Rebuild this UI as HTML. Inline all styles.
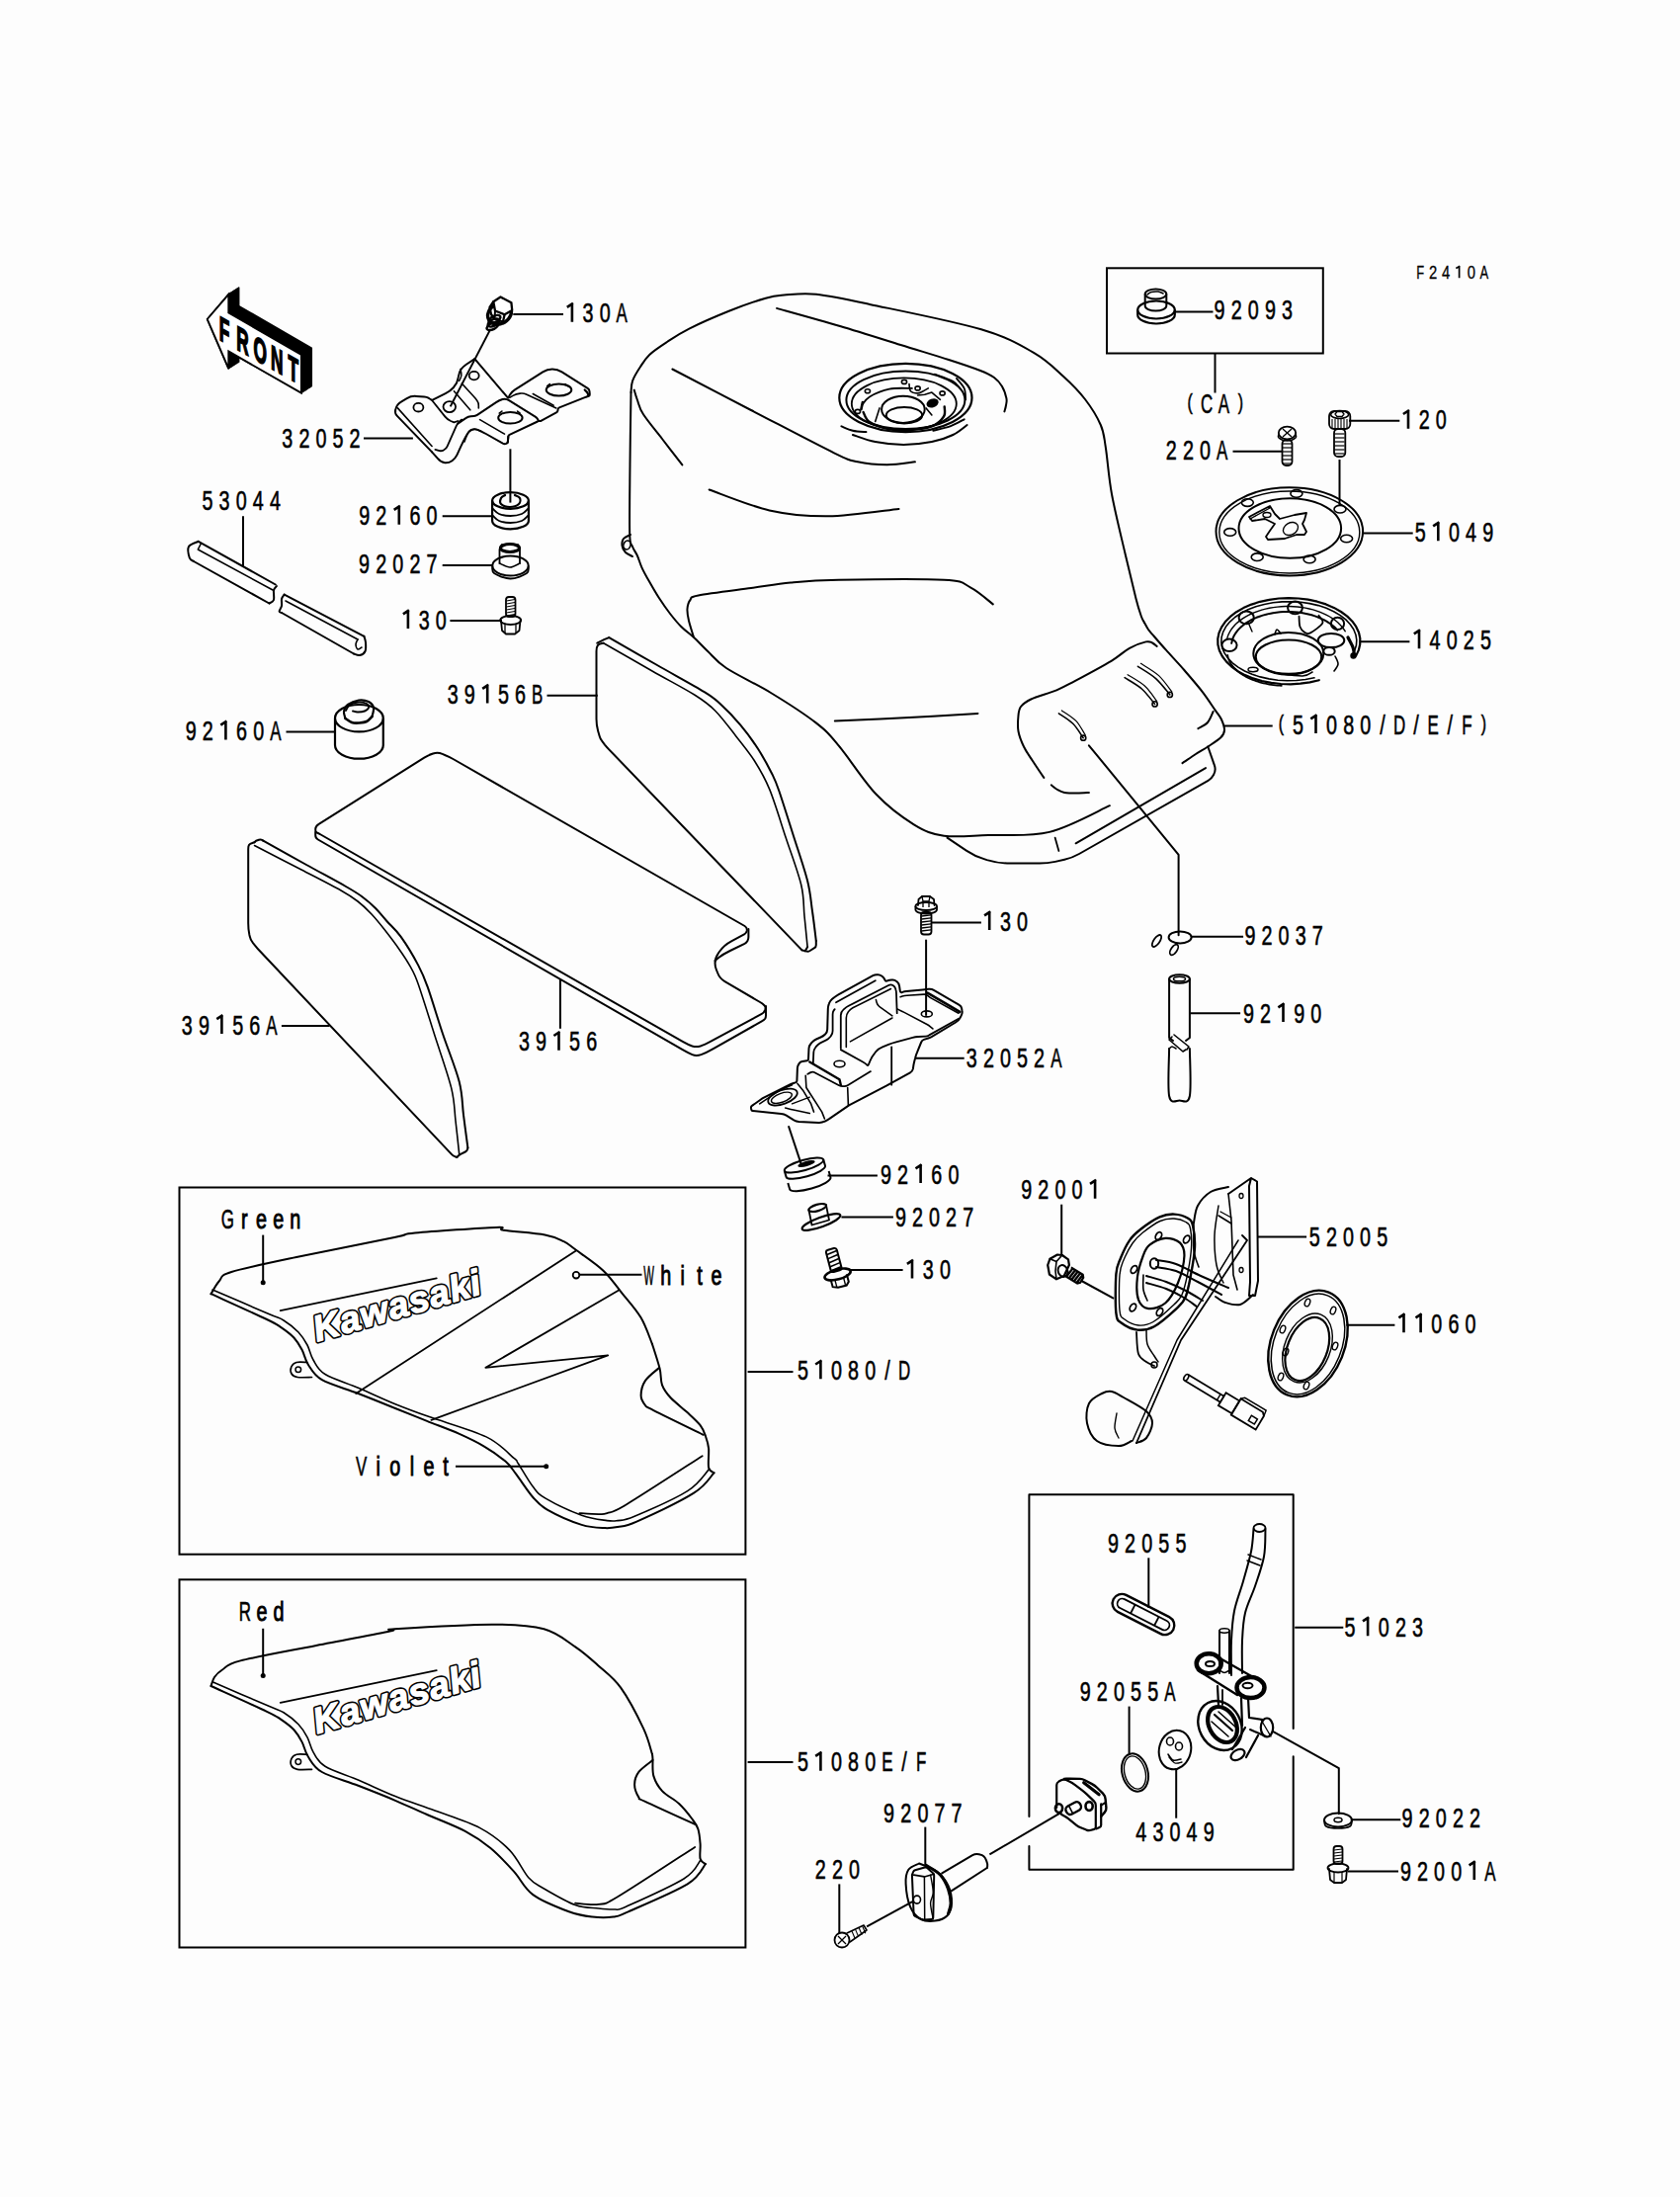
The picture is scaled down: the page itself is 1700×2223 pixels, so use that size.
<!DOCTYPE html>
<html><head><meta charset="utf-8"><title>Fuel Tank</title>
<style>html,body{margin:0;padding:0;background:#fdfdfd;}svg{display:block;}</style></head>
<body><svg width="1700" height="2223" viewBox="0 0 1700 2223">
<rect width="1700" height="2223" fill="#fdfdfd"/>
<path d="M209.7,323 L231.3,297.8 L231.3,316.4 L304.9,359 L304.9,397.6 L231.3,355.5 L231.3,373Z" fill="#000" stroke="#000" stroke-width="1.5" stroke-linejoin="round"/>
<path d="M210.7,322.3 L232.3,297.1 L232.3,315.7 L305.9,358.3 L305.9,396.9 L232.3,354.8 L232.3,372.3Z" fill="#000" stroke="#000" stroke-width="1.5" stroke-linejoin="round"/>
<path d="M211.8,321.6 L233.4,296.4 L233.4,315 L307,357.6 L307,396.2 L233.4,354.1 L233.4,371.6Z" fill="#000" stroke="#000" stroke-width="1.5" stroke-linejoin="round"/>
<path d="M212.8,321 L234.4,295.8 L234.4,314.4 L308,357 L308,395.6 L234.4,353.5 L234.4,371Z" fill="#000" stroke="#000" stroke-width="1.5" stroke-linejoin="round"/>
<path d="M213.9,320.3 L235.5,295.1 L235.5,313.7 L309.1,356.3 L309.1,394.9 L235.5,352.8 L235.5,370.3Z" fill="#000" stroke="#000" stroke-width="1.5" stroke-linejoin="round"/>
<path d="M214.9,319.6 L236.5,294.4 L236.5,313 L310.1,355.6 L310.1,394.2 L236.5,352.1 L236.5,369.6Z" fill="#000" stroke="#000" stroke-width="1.5" stroke-linejoin="round"/>
<path d="M215.9,318.9 L237.5,293.7 L237.5,312.3 L311.1,354.9 L311.1,393.5 L237.5,351.4 L237.5,368.9Z" fill="#000" stroke="#000" stroke-width="1.5" stroke-linejoin="round"/>
<path d="M217,318.2 L238.6,293 L238.6,311.6 L312.2,354.2 L312.2,392.8 L238.6,350.7 L238.6,368.2Z" fill="#000" stroke="#000" stroke-width="1.5" stroke-linejoin="round"/>
<path d="M218,317.6 L239.6,292.4 L239.6,311 L313.2,353.6 L313.2,392.2 L239.6,350.1 L239.6,367.6Z" fill="#000" stroke="#000" stroke-width="1.5" stroke-linejoin="round"/>
<path d="M219.1,316.9 L240.7,291.7 L240.7,310.3 L314.3,352.9 L314.3,391.5 L240.7,349.4 L240.7,366.9Z" fill="#000" stroke="#000" stroke-width="1.5" stroke-linejoin="round"/>
<path d="M220.1,316.2 L241.7,291 L241.7,309.6 L315.3,352.2 L315.3,390.8 L241.7,348.7 L241.7,366.2Z" fill="#000" stroke="#000" stroke-width="1.5" stroke-linejoin="round"/>
<path d="M209.7,323 L231.3,297.8 L231.3,316.4 L304.9,359 L304.9,397.6 L231.3,355.5 L231.3,373Z" fill="#fff" stroke="#000" stroke-width="1.9" stroke-linejoin="miter"/>
<text transform="translate(221.8 343.5) skewY(29.2) scale(0.5 1)" x="0 34.8 69.6 104.4 139.2" y="0" font-family="Liberation Sans" font-weight="bold" font-size="34.5" stroke="#000" stroke-width="1.8">FRONT</text>
<path d="M638.5,397 C638.8,395.1 638.5,389.6 640.1,385.3 C641.7,381 645,375.7 647.9,371.3 C650.8,366.9 652.7,363.1 657.2,358.9 C661.7,354.7 668.3,350.4 675,346 C681.7,341.6 687,337.8 697.4,332.6 C707.8,327.4 724.7,320 737.6,314.8 C750.5,309.6 765.5,304.4 774.8,301.7 C784.1,299 784.9,299.2 793.4,298.6 C801.9,298 811.5,296.2 825.9,297.8 C840.3,299.4 852.2,302 880,307.9 C907.8,313.8 965.2,325.1 992.9,333.3 C1020.6,341.5 1032.5,349.2 1046.4,357.1 C1060.3,365.1 1067.6,373.2 1076.2,381 C1084.8,388.8 1091.7,395.8 1098,404 C1104.3,412.2 1110.3,421.9 1113.8,430 C1117.3,438.1 1116.9,440.8 1118.8,452.5 C1120.7,464.2 1121.7,482.1 1125,500 C1128.3,517.9 1134.4,542.4 1138.5,560 C1142.6,577.6 1146.8,595 1149.5,605.7 C1152.2,616.4 1153.6,620 1155,624 C1156.4,628 1157.5,629 1158,630" fill="none" stroke="#000" stroke-width="2" stroke-linejoin="round" stroke-linecap="round"/>
<path d="M638.5,397 C638.3,409.2 637.7,446.2 637.5,470 C637.3,493.8 636.8,526.2 637.2,540 C637.6,553.8 638.7,549.3 640,553 C641.3,556.7 643.2,558.5 644.8,562 C646.4,565.5 647.5,569.9 649.5,574.3 C651.5,578.7 654.2,583.5 657.1,588.6 C660,593.7 663.2,599.4 666.7,604.8 C670.2,610.2 674.3,616.1 678.1,621 C681.9,625.9 685.5,630.3 689.5,634.3 C693.5,638.3 697.4,640.7 701.9,644.8 C706.4,648.9 710.7,653.8 716.2,659 C721.7,664.2 724.4,669 735,676 C745.6,683 764.9,691.8 780,701 C795.1,710.2 814.3,722.5 825.7,731.4 C837.1,740.3 838.4,742.2 848.6,754.3 C858.8,766.4 874,790.5 886.7,803.8 C899.4,817.1 913.4,827.3 924.8,834.3 C936.2,841.3 942.7,843.9 955.2,845.7 C967.7,847.5 982.2,845.6 1000,845 C1017.8,844.4 1041.4,846.9 1061.9,841.9 C1082.4,836.9 1112.7,819.7 1122.9,815.2" fill="none" stroke="#000" stroke-width="2" stroke-linejoin="round" stroke-linecap="round"/>
<path d="M638,541 C636.8,541.7 632.4,543.2 631,545 C629.6,546.8 629.2,549.7 629.5,552 C629.8,554.3 631.2,557.2 633,559 C634.8,560.8 638.8,562.3 640,563" fill="none" stroke="#000" stroke-width="2" stroke-linejoin="round" stroke-linecap="round"/>
<ellipse cx="634.5" cy="551.5" rx="3.5" ry="4.5" fill="none" stroke="#000" stroke-width="1.6" transform="rotate(20 634.5 551.5)"/>
<path d="M641.7,394.6 C642.2,396.3 643.5,400.9 645,405 C646.5,409.1 646.8,412.8 651,419.3 C655.2,425.8 663.4,435.5 670,444 C676.6,452.5 687,466 690.4,470.4" fill="none" stroke="#000" stroke-width="2" stroke-linejoin="round" stroke-linecap="round"/>
<path d="M680.4,373.5 C693.7,380.4 732.7,400.9 760,415 C787.3,429.1 826,449.6 844,458.3 C862,467 859,465.3 867.9,467.3 C876.8,469.3 887.9,470.2 897.6,470.2 C907.3,470.2 921.2,467.8 925.9,467.3" fill="none" stroke="#000" stroke-width="2" stroke-linejoin="round" stroke-linecap="round"/>
<path d="M786,311.9 C796.7,314.9 829.1,323.8 850,330 C870.9,336.2 893.1,343.3 911.4,349 C929.7,354.7 946.6,359.7 960,364 C973.4,368.3 984.3,372 992,375 C999.7,378 1002.3,379.3 1006,382 C1009.7,384.7 1011.9,387.5 1014,391 C1016.1,394.5 1017.7,399.8 1018.4,403 C1019.1,406.2 1018.3,407.8 1018,410 C1017.7,412.2 1016.7,415.3 1016.4,416.4" fill="none" stroke="#000" stroke-width="2" stroke-linejoin="round" stroke-linecap="round"/>
<path d="M717.6,495.5 C727.8,499 758.5,511.9 778.6,516.4 C798.7,520.9 816.3,522.5 838.1,522.3 C859.9,522 897.6,516.1 909.5,514.9" fill="none" stroke="#000" stroke-width="2" stroke-linejoin="round" stroke-linecap="round"/>
<path d="M701.9,644.5 C701.1,641.8 698.1,632.8 697,628 C695.9,623.2 695.2,619.5 695.5,616 C695.8,612.5 696.6,609.3 698.5,607 C700.4,604.7 696.5,604.4 706.7,602.4 C717,600.4 744.5,597.1 760,595 C775.5,592.9 785.2,590.9 800,589.5 C814.8,588.1 822.7,587.2 848.6,586.7 C874.5,586.2 933,585.4 955.2,586.7 C977.4,588 973.6,590.2 981.9,594.3 C990.2,598.4 1001,608.5 1004.8,611.4" fill="none" stroke="#000" stroke-width="2" stroke-linejoin="round" stroke-linecap="round"/>
<path d="M844.8,729.5 C857.3,728.9 895.9,727.3 920,726 C944.1,724.7 977.9,722.6 989.5,721.9" fill="none" stroke="#000" stroke-width="2" stroke-linejoin="round" stroke-linecap="round"/>
<ellipse cx="916.4" cy="402.5" rx="67.1" ry="34.6" fill="none" stroke="#000" stroke-width="2.2"/>
<ellipse cx="916.4" cy="404.8" rx="60" ry="29.3" fill="none" stroke="#000" stroke-width="2"/>
<ellipse cx="914.8" cy="408.6" rx="53" ry="26.2" fill="none" stroke="#000" stroke-width="1.8"/>
<ellipse cx="913.9" cy="414.3" rx="21.8" ry="13.6" fill="none" stroke="#000" stroke-width="2"/>
<ellipse cx="915" cy="420.2" rx="18.2" ry="8.2" fill="none" stroke="#000" stroke-width="2"/>
<path d="M872.1,410 C873.5,408.6 875.4,404.2 880,401.4 C884.6,398.7 892.9,395 900,393.6 C907.1,392.1 919,393 922.9,392.9" fill="none" stroke="#000" stroke-width="1.8" stroke-linejoin="round" stroke-linecap="round"/>
<path d="M873.6,417.1 C874.6,418.8 875.6,424.3 880,427.1 C884.4,430 893.1,433 900,434.3 C906.9,435.6 914.3,435.5 921.4,435 C928.6,434.5 937.3,433.7 942.9,431.4 C948.5,429.2 952.9,424.8 955,421.4 C957.1,418.1 955.6,413.1 955.7,411.4" fill="none" stroke="#000" stroke-width="2.4" stroke-linejoin="round" stroke-linecap="round"/>
<path d="M851.4,431.4 C853.3,432.1 858.7,434.8 862.9,435.7 C867,436.7 874.2,436.9 876.4,437.1" fill="none" stroke="#000" stroke-width="2" stroke-linejoin="round" stroke-linecap="round"/>
<path d="M944.3,435.7 C947.1,435 956.2,433.3 961.4,431.4 C966.7,429.5 973.3,425.5 975.7,424.3" fill="none" stroke="#000" stroke-width="2" stroke-linejoin="round" stroke-linecap="round"/>
<path d="M862.9,440 C866.7,441.2 877.1,445.5 885.7,447.1 C894.3,448.8 904.8,450 914.3,450 C923.8,450 934.5,448.8 942.9,447.1 C951.2,445.5 958.3,442.9 964.3,440 C970.2,437.1 976.2,431.7 978.6,430" fill="none" stroke="#000" stroke-width="2" stroke-linejoin="round" stroke-linecap="round"/>
<path d="M945.7,378.6 C948.8,379.8 960,383.3 964.3,385.7 C968.6,388.1 970.2,391.7 971.4,392.9" fill="none" stroke="#000" stroke-width="1.6" stroke-linejoin="round" stroke-linecap="round"/>
<path d="M967.9,382.9 C969.2,384.5 974.2,389.3 975.7,392.9 C977.3,396.4 976.9,402.4 977.1,404.3" fill="none" stroke="#000" stroke-width="1.8" stroke-linejoin="round" stroke-linecap="round"/>
<ellipse cx="877.9" cy="395.7" rx="2.6" ry="2" fill="none" stroke="#000" stroke-width="1.6"/>
<ellipse cx="915" cy="386.4" rx="2.6" ry="2" fill="none" stroke="#000" stroke-width="1.6"/>
<ellipse cx="928.6" cy="392.9" rx="2.6" ry="2" fill="none" stroke="#000" stroke-width="1.6"/>
<ellipse cx="953.6" cy="397.9" rx="2.6" ry="2" fill="none" stroke="#000" stroke-width="1.6"/>
<ellipse cx="867.9" cy="416.4" rx="2.6" ry="2" fill="none" stroke="#000" stroke-width="1.6"/>
<ellipse cx="943.6" cy="407.9" rx="5.5" ry="3.5" fill="#000" stroke="#000" stroke-width="1.6" transform="rotate(-20 943.6 407.9)"/>
<path d="M920,388.6 C920.2,389.8 920,394.2 921.4,395.7 C922.9,397.3 926.4,397.9 928.6,397.9 C930.7,397.9 932.5,396.5 934.3,395.7 C936.1,394.9 938.5,393.3 939.3,392.9" fill="none" stroke="#000" stroke-width="1.6" stroke-linejoin="round" stroke-linecap="round"/>
<path d="M928.6,400 L935.7,399.3 L942.9,397.1 L951.4,404.3" fill="none" stroke="#000" stroke-width="1.6" stroke-linejoin="round" stroke-linecap="round"/>
<path d="M937.1,412.9 L942.9,420" fill="none" stroke="#000" stroke-width="1.6" stroke-linejoin="round" stroke-linecap="round"/>
<path d="M890,412.9 L885.7,426.4" fill="none" stroke="#000" stroke-width="1.6" stroke-linejoin="round" stroke-linecap="round"/>
<path d="M872.9,407.1 L871.4,414.3" fill="none" stroke="#000" stroke-width="2.6" stroke-linejoin="round" stroke-linecap="round"/>
<path d="M1056.3,786.9 C1054.4,784.1 1048.4,775.2 1045,770 C1041.6,764.8 1038.4,760.5 1036,755.5 C1033.6,750.5 1031.4,745.1 1030.5,740 C1029.6,734.9 1030,729.2 1030.4,725 C1030.8,720.8 1030.8,717.9 1033,715 C1035.2,712.1 1037.3,710.3 1043.3,707.5 C1049.3,704.7 1061.8,701.4 1069.2,698.3 C1076.6,695.2 1078.4,694 1087.6,689.1 C1096.8,684.2 1115.3,674.3 1124.5,668.8 C1133.7,663.2 1137.2,659 1143,655.8 C1148.8,652.6 1155.8,650.3 1159.6,649.4 C1163.4,648.5 1164.2,649.7 1166,650.5 C1167.8,651.3 1169.9,653.4 1170.7,654" fill="none" stroke="#000" stroke-width="2" stroke-linejoin="round" stroke-linecap="round"/>
<path d="M1158,630 C1158.7,631.2 1160.5,634.9 1162,637 C1163.5,639.1 1164,639.4 1167,642.9 C1170,646.4 1174.7,651.9 1179.9,657.7 C1185.1,663.6 1192.2,670.9 1198.3,678 C1204.4,685.1 1211.6,693.3 1216.8,700.1 C1222,706.9 1226.5,714 1229.7,718.6 C1232.9,723.2 1234.5,724.6 1236,728 C1237.5,731.4 1239.1,735.9 1239,738.9 C1238.9,741.9 1238.1,743.5 1235.3,746.3 C1232.5,749.1 1226.5,752.7 1222.3,755.5 C1218.1,758.3 1214.3,760.2 1210,763 C1205.7,765.8 1198.8,770.6 1196.5,772.1" fill="none" stroke="#000" stroke-width="2" stroke-linejoin="round" stroke-linecap="round"/>
<path d="M1063.8,794.3 C1064.8,795.1 1067.8,797.7 1070,799 C1072.2,800.3 1073.8,801.3 1077.1,801.9 C1080.4,802.5 1085.9,802.5 1090,802.5 C1094.1,802.5 1099.9,802.1 1101.9,802" fill="none" stroke="#000" stroke-width="2" stroke-linejoin="round" stroke-linecap="round"/>
<path d="M1212.4,737.1 C1214,736.1 1219.5,733.9 1222,731 C1224.5,728.1 1226.7,721.8 1227.6,720" fill="none" stroke="#000" stroke-width="2" stroke-linejoin="round" stroke-linecap="round"/>
<path d="M1222.3,755.5 L1228.9,774.3 Q1230.6,779 1228.3,783.4 L1227.9,784.3 Q1226,787.8 1222.5,789.8 L1092,864 Q1085,868 1077.2,869.7 L1067.8,871.9 Q1060,873.6 1052,873.6 L1022.1,873.6 Q1010.1,873.6 998.6,870.1 L995.7,869.1 Q986.1,866.2 977.8,860.6 L958.5,847.7" fill="none" stroke="#000" stroke-width="2" stroke-linejoin="round" stroke-linecap="round"/>
<path d="M1088.6,853.3 L1220,777.1" fill="none" stroke="#000" stroke-width="2" stroke-linejoin="round" stroke-linecap="round"/>
<path d="M1067.6,847.6 L1071.4,861" fill="none" stroke="#000" stroke-width="1.8" stroke-linejoin="round" stroke-linecap="round"/>
<path d="M1138.1,685.7 C1141,687.6 1150.3,692.6 1155.3,697 C1160.4,701.5 1166.4,709.8 1168.6,712.4" fill="none" stroke="#000" stroke-width="1.6" stroke-linejoin="round" stroke-linecap="round"/>
<path d="M1141.1,682.7 C1144,684.6 1153.4,689.6 1158.3,694 C1163.3,698.5 1168.6,706.8 1170.6,709.4" fill="none" stroke="#000" stroke-width="1.2" stroke-linejoin="round" stroke-linecap="round"/>
<ellipse cx="1168.6" cy="712.4" rx="2.6" ry="2.6" fill="none" stroke="#000" stroke-width="1.6"/>
<path d="M1151.4,674.3 C1154.4,676.3 1164.2,681.8 1169.6,686.6 C1175,691.4 1181.4,700.2 1183.8,702.9" fill="none" stroke="#000" stroke-width="1.6" stroke-linejoin="round" stroke-linecap="round"/>
<path d="M1154.4,671.3 C1157.4,673.3 1167.4,678.8 1172.6,683.6 C1177.8,688.4 1183.6,697.2 1185.8,699.9" fill="none" stroke="#000" stroke-width="1.2" stroke-linejoin="round" stroke-linecap="round"/>
<ellipse cx="1183.8" cy="702.9" rx="2.6" ry="2.6" fill="none" stroke="#000" stroke-width="1.6"/>
<path d="M1071.4,721.9 C1073.8,723.6 1081.7,728.2 1085.8,732.3 C1089.9,736.4 1094.5,744.3 1096.2,746.7" fill="none" stroke="#000" stroke-width="1.6" stroke-linejoin="round" stroke-linecap="round"/>
<path d="M1074.4,718.9 C1076.8,720.6 1084.8,725.2 1088.8,729.3 C1092.8,733.4 1096.6,741.3 1098.2,743.7" fill="none" stroke="#000" stroke-width="1.2" stroke-linejoin="round" stroke-linecap="round"/>
<ellipse cx="1096.2" cy="746.7" rx="2.6" ry="2.6" fill="none" stroke="#000" stroke-width="1.6"/>
<ellipse cx="498.5" cy="330" rx="6.5" ry="3.2" fill="none" stroke="#000" stroke-width="2.4" transform="rotate(-28 498.5 330)"/>
<ellipse cx="499.5" cy="326.5" rx="6.5" ry="3.2" fill="none" stroke="#000" stroke-width="2.4" transform="rotate(-28 499.5 326.5)"/>
<ellipse cx="500.5" cy="323" rx="6.5" ry="3.2" fill="none" stroke="#000" stroke-width="2.4" transform="rotate(-28 500.5 323)"/>
<ellipse cx="505.5" cy="317.5" rx="12.5" ry="10" fill="none" stroke="#000" stroke-width="3.4" transform="rotate(-30 505.5 317.5)"/>
<path d="M499.3,305.2 L506.5,300.5 L517.4,306.2 L518.2,313.9 L510.6,318.3 L501,314.5Z" fill="#fff" stroke="#000" stroke-width="2.3" stroke-linejoin="round" stroke-linecap="round"/>
<path d="M499.3,305.2 L495.5,311 L497,318 L500.5,323 L509,325.5 L510.6,318.3" fill="none" stroke="#000" stroke-width="2.3" stroke-linejoin="round" stroke-linecap="round"/>
<path d="M501,314.5 L500.5,323" fill="none" stroke="#000" stroke-width="2" stroke-linejoin="round" stroke-linecap="round"/>
<path d="M437.1,457.4 L401.9,420.9 Q399.2,418.1 400.2,414.3 L400.5,413.5 Q401.8,408.9 406.3,406.3 L411.7,403.1 Q416.2,400.4 421.4,400.9 L429.3,401.5 Q431.9,401.7 433.5,402.7 L434.1,403 Q435.2,403.7 436.2,404.3 L436.2,404.3 Q437.1,405 438.3,404.4 L450.8,398.2 Q455.5,395.8 459,392 L459.1,391.8 Q462.7,388 463.5,382.8 L463.8,381.4 Q464.6,376.2 466.6,373.6 L466.6,373.6 Q468.6,371 471.8,368.8 L480.4,363.1" fill="none" stroke="#000" stroke-width="2" stroke-linejoin="round" stroke-linecap="round"/>
<path d="M480.4,363.1 L513.8,402.4" fill="none" stroke="#000" stroke-width="2" stroke-linejoin="round" stroke-linecap="round"/>
<path d="M437.1,457.4 L442.9,463.9 Q446.3,467.9 450.2,468.2 L450.2,468.2 Q454.2,468.5 457.4,466.2 L457.5,466.2 Q460.7,463.9 462.4,460.4 L466.4,451.7 Q468.6,446.9 471.1,442.3 L472.6,439.7 Q475.1,435.1 478.4,434.5 L478.4,434.5 Q481.7,433.8 485.6,435.8 L487.2,436.6 Q489.5,437.7 491.8,439 L508.8,448.6 Q510.5,449.5 512.1,448.9 L512.5,448.7 Q513.8,448.2 513.9,446.9 L514.4,441.7" fill="none" stroke="#000" stroke-width="2" stroke-linejoin="round" stroke-linecap="round"/>
<path d="M440.4,454.8 L443.8,455.9 Q446.3,456.7 448.7,455.6 L449.2,455.3 Q451.6,454.1 452.6,451.7 L461.8,430.9 Q463.3,427.3 465.3,426 L467.3,424.6" fill="none" stroke="#000" stroke-width="1.8" stroke-linejoin="round" stroke-linecap="round"/>
<path d="M469.9,446.9 L472.4,440.1 Q473.8,436.4 477.1,435.1 L477.9,434.8 Q480.4,433.8 482.8,434.8 L486.9,436.4" fill="none" stroke="#000" stroke-width="1.6" stroke-linejoin="round" stroke-linecap="round"/>
<path d="M402.4,412.9 L437.1,451.5" fill="none" stroke="#000" stroke-width="1.6" stroke-linejoin="round" stroke-linecap="round"/>
<path d="M437.1,405 L450.4,421.6 Q452.9,424.6 456.1,426 L459.4,427.3 L463.3,426" fill="none" stroke="#000" stroke-width="1.8" stroke-linejoin="round" stroke-linecap="round"/>
<path d="M459.4,395.8 L475.8,414.8" fill="none" stroke="#000" stroke-width="1.6" stroke-linejoin="round" stroke-linecap="round"/>
<path d="M467.3,388 L479,400.8 Q481.7,403.7 483,405.7 L483,405.7 Q484.3,407.6 484.3,410.2 L484.3,412.9" fill="none" stroke="#000" stroke-width="1.6" stroke-linejoin="round" stroke-linecap="round"/>
<path d="M466,373.6 L466.8,377.6 Q467.3,380.1 466.1,382.5 L464.6,385.4" fill="none" stroke="#000" stroke-width="1.5" stroke-linejoin="round" stroke-linecap="round"/>
<path d="M463.3,428.6 L471.7,422.9 Q473.8,421.4 476.4,421.2 L479.7,420.9 Q481.7,420.7 483.3,419.6 L502,407.2 Q505.2,405 508.5,404 L508.5,404 Q511.8,403 515.1,405.1 L541.6,421.6 Q543.2,422.7 544.2,424.3 L544.5,424.8 Q545.2,426 544,426.5 L515.6,439.8 Q514.4,440.4 514.3,441.7 L513.8,447.6" fill="none" stroke="#000" stroke-width="2" stroke-linejoin="round" stroke-linecap="round"/>
<path d="M485.6,424.6 L510.5,439.1" fill="none" stroke="#000" stroke-width="1.6" stroke-linejoin="round" stroke-linecap="round"/>
<path d="M514.4,402.4 L516,399.4 Q517.7,396.5 521,394.4 L549.3,376.4 Q553.7,373.6 558.9,373.6 L558.9,373.6 Q564.2,373.6 568.6,376.4 L594.6,392.8 Q596.3,393.9 596.5,395.8 L596.8,399.1 Q596.9,400.4 595.7,400.8 L594.2,401.3 Q593,401.7 591.8,402.2 L566,412.4 Q564.8,412.9 564.6,414.2 L564.4,415.5 Q564.2,416.8 563,417.4 L548.3,425.3 Q547.2,426 546.2,426 L545.2,426" fill="none" stroke="#000" stroke-width="2" stroke-linejoin="round" stroke-linecap="round"/>
<path d="M515.7,402.4 L519,400.4 Q522.3,398.5 526.2,398.1 L527.5,398 Q530.1,397.8 532.5,398.9 L562.9,412.9" fill="none" stroke="#000" stroke-width="1.6" stroke-linejoin="round" stroke-linecap="round"/>
<path d="M539.3,398.5 L560.2,410.2" fill="none" stroke="#000" stroke-width="1.6" stroke-linejoin="round" stroke-linecap="round"/>
<path d="M591.7,394.5 L594.3,397.1 L595.6,400.4" fill="none" stroke="#000" stroke-width="2.2" stroke-linejoin="round" stroke-linecap="round"/>
<ellipse cx="423.4" cy="412.2" rx="5" ry="4.3" fill="none" stroke="#000" stroke-width="1.8"/>
<ellipse cx="454.8" cy="411.6" rx="6.3" ry="5.5" fill="none" stroke="#000" stroke-width="1.8"/>
<ellipse cx="479.7" cy="380.1" rx="5" ry="4.3" fill="none" stroke="#000" stroke-width="1.8"/>
<ellipse cx="516.4" cy="422.7" rx="12.2" ry="5.8" fill="none" stroke="#000" stroke-width="2"/>
<ellipse cx="565.5" cy="394.5" rx="12.8" ry="6" fill="none" stroke="#000" stroke-width="2"/>
<path d="M505.2,418.1 L507.9,416.1" fill="none" stroke="#000" stroke-width="1.6" stroke-linejoin="round" stroke-linecap="round"/>
<path d="M523.6,416.1 L526.2,418.1" fill="none" stroke="#000" stroke-width="1.6" stroke-linejoin="round" stroke-linecap="round"/>
<path d="M553.7,390.6 L556.3,388.6" fill="none" stroke="#000" stroke-width="1.6" stroke-linejoin="round" stroke-linecap="round"/>
<path d="M572,388.6 L574.7,390.6" fill="none" stroke="#000" stroke-width="1.6" stroke-linejoin="round" stroke-linecap="round"/>
<g transform="translate(516.5 506.5) rotate(0)"><ellipse cx="0" cy="0" rx="18.4" ry="8.3" fill="none" stroke="#000" stroke-width="2.2"/><path d="M-18.4,0 L-18.4,20.5 A18.4,8.3 0 0 0 18.4,20.5 L18.4,0" fill="none" stroke="#000" stroke-width="2.2" stroke-linejoin="round"/></g>
<path d="M521,501 C521.8,501.5 525.3,502.5 526,504 C526.7,505.5 526.7,508.5 525,510 C523.3,511.5 519,513 516,513 C513,513 508.5,511.5 507,510 C505.5,508.5 506.3,505.5 507,504 C507.7,502.5 510.3,501.5 511,501" fill="none" stroke="#000" stroke-width="2.2" stroke-linejoin="round" stroke-linecap="round"/>
<path d="M499,515 C500,515.8 502.1,518.8 505,520 C507.9,521.2 512.7,522 516.5,522 C520.3,522 525.1,521.2 528,520 C530.9,518.8 533,515.8 534,515" fill="none" stroke="#000" stroke-width="1.8" stroke-linejoin="round" stroke-linecap="round"/>
<path d="M499,522 C500,522.8 502.1,525.8 505,527 C507.9,528.2 512.7,529 516.5,529 C520.3,529 525.1,528.2 528,527 C530.9,525.8 533,522.8 534,522" fill="none" stroke="#000" stroke-width="1.8" stroke-linejoin="round" stroke-linecap="round"/>
<ellipse cx="516.5" cy="572.5" rx="18.2" ry="10" fill="none" stroke="#000" stroke-width="2"/>
<path d="M498.3,573 C498.6,574.2 497,577.9 500,580 C503,582.1 511,585.5 516.5,585.5 C522,585.5 530,582.1 533,580 C536,577.9 534.4,574.2 534.7,573" fill="none" stroke="#000" stroke-width="1.8" stroke-linejoin="round" stroke-linecap="round"/>
<path d="M505.5,570 L505.5,556 L508,551" fill="none" stroke="#000" stroke-width="1.8" stroke-linejoin="round" stroke-linecap="round"/>
<path d="M526,570 L526,556 L524,551" fill="none" stroke="#000" stroke-width="1.8" stroke-linejoin="round" stroke-linecap="round"/>
<ellipse cx="516" cy="554.5" rx="9.5" ry="4" fill="none" stroke="#000" stroke-width="3.2"/>
<path d="M505.5,570 C507.2,570.7 512.6,574 516,574 C519.4,574 524.3,570.7 526,570" fill="none" stroke="#000" stroke-width="1.6" stroke-linejoin="round" stroke-linecap="round"/>
<rect x="512" y="604" width="9.5" height="20" rx="3" fill="none" stroke="#000" stroke-width="1.8"/>
<line x1="512.5" y1="608" x2="521" y2="606.5" stroke="#000" stroke-width="1.2"/>
<line x1="512.5" y1="611" x2="521" y2="609.5" stroke="#000" stroke-width="1.2"/>
<line x1="512.5" y1="614" x2="521" y2="612.5" stroke="#000" stroke-width="1.2"/>
<line x1="512.5" y1="617" x2="521" y2="615.5" stroke="#000" stroke-width="1.2"/>
<line x1="512.5" y1="620" x2="521" y2="618.5" stroke="#000" stroke-width="1.2"/>
<line x1="512.5" y1="623" x2="521" y2="621.5" stroke="#000" stroke-width="1.2"/>
<ellipse cx="516.7" cy="627.5" rx="10.5" ry="4.5" fill="none" stroke="#000" stroke-width="1.8"/>
<path d="M507,628 L508,638 L512,641.5 L521,641.5 L525.5,638 L526.5,628" fill="none" stroke="#000" stroke-width="1.8" stroke-linejoin="round" stroke-linecap="round"/>
<line x1="511" y1="631" x2="511" y2="640" stroke="#000" stroke-width="1.3"/>
<line x1="522" y1="631" x2="522" y2="640" stroke="#000" stroke-width="1.3"/>
<path d="M200.7,547.8 C199.1,548.7 192.5,550.2 191,553 C189.5,555.8 191,562 191.8,564.5 C192.6,567 195.3,567.4 196,568" fill="none" stroke="#000" stroke-width="2" stroke-linejoin="round" stroke-linecap="round"/>
<path d="M196,568 L272.4,610.5" fill="none" stroke="#000" stroke-width="2" stroke-linejoin="round" stroke-linecap="round"/>
<path d="M272.4,610.5 C273.2,609.9 276.2,609.2 277,607 C277.8,604.8 276.5,599.3 277,597 C277.5,594.7 279.5,593.7 280,593" fill="none" stroke="#000" stroke-width="2" stroke-linejoin="round" stroke-linecap="round"/>
<path d="M200.7,547.8 L278.8,591.5" fill="none" stroke="#000" stroke-width="2" stroke-linejoin="round" stroke-linecap="round"/>
<path d="M203.6,549.5 L200.3,556 L276,597" fill="none" stroke="#000" stroke-width="1.6" stroke-linejoin="round" stroke-linecap="round"/>
<path d="M287.7,601.6 L368.4,643.8" fill="none" stroke="#000" stroke-width="2" stroke-linejoin="round" stroke-linecap="round"/>
<path d="M287.7,601.6 C287.2,602.3 285.4,604.1 285,606 C284.6,607.9 285.4,610.9 285,613 C284.6,615.1 282.6,617.3 282.6,618.5 C282.6,619.7 284.6,619.8 285,620" fill="none" stroke="#000" stroke-width="2" stroke-linejoin="round" stroke-linecap="round"/>
<path d="M285,620 L358,661.5" fill="none" stroke="#000" stroke-width="2" stroke-linejoin="round" stroke-linecap="round"/>
<path d="M358,661.5 C359,661.8 362.1,663.4 364,663 C365.9,662.6 368.5,661.2 369.5,659 C370.5,656.8 370.2,652.5 370,650 C369.8,647.5 368.7,644.8 368.4,643.8" fill="none" stroke="#000" stroke-width="2" stroke-linejoin="round" stroke-linecap="round"/>
<path d="M289,608 L362,647" fill="none" stroke="#000" stroke-width="1.6" stroke-linejoin="round" stroke-linecap="round"/>
<path d="M362,647 C361.7,647.8 360,650.3 360,652 C360,653.7 361,656.5 362,657 C363,657.5 365.3,655.3 366,655" fill="none" stroke="#000" stroke-width="1.6" stroke-linejoin="round" stroke-linecap="round"/>
<g transform="translate(363.4 726.7) rotate(0)"><ellipse cx="0" cy="0" rx="24.4" ry="13.7" fill="none" stroke="#000" stroke-width="2.2"/><path d="M-24.4,0 L-24.4,27.3 A24.4,13.7 0 0 0 24.4,27.3 L24.4,0" fill="none" stroke="#000" stroke-width="2.2" stroke-linejoin="round"/></g>
<path d="M349.5,727 C349.2,725.8 347.6,722.3 348,720 C348.4,717.7 349.5,714.9 352,713 C354.5,711.1 359.5,709 363,708.5 C366.5,708 370.5,708.8 373,710 C375.5,711.2 377.4,713.5 378,716 C378.6,718.5 376.8,723.5 376.5,725" fill="none" stroke="#000" stroke-width="2.2" stroke-linejoin="round" stroke-linecap="round"/>
<path d="M349.5,727 C350.6,727.7 353.8,730.2 356,731 C358.2,731.8 360.5,731.7 363,731.5 C365.5,731.3 368.8,731.1 371,730 C373.2,728.9 375.6,725.8 376.5,725" fill="none" stroke="#000" stroke-width="2.6" stroke-linejoin="round" stroke-linecap="round"/>
<path d="M350,719 C350.7,718 351.8,714.4 354,713 C356.2,711.6 360.2,710.7 363,710.5 C365.8,710.3 369.3,711.1 371,712 C372.7,712.9 373.3,714.8 373,716 C372.7,717.2 370.8,718.8 369,719.5 C367.2,720.2 364,720.5 362,720.5 C360,720.5 357.8,719.7 357,719.5" fill="none" stroke="#000" stroke-width="1.9" stroke-linejoin="round" stroke-linecap="round"/>
<path d="M811.5,961.4 L616,758.1 Q613.9,755.9 612,753.6 L609.4,750.2 Q607.5,747.9 606.7,745 L605.1,739.4 Q603.5,733.6 603.5,727.6 L603.5,659 Q603.5,655 604.8,653.2 L604.8,653.1 Q606,651.5 608,651.2 L610.7,650.7" fill="none" stroke="#000" stroke-width="2" stroke-linejoin="round" stroke-linecap="round"/>
<path d="M610.7,650.7 C618.9,655.4 644.6,670.2 660,679 C675.4,687.8 692.5,696.6 703.1,703.3 C713.7,710 716.9,712.3 723.8,719.2 C730.7,726.1 738,736.2 744.6,744.7 C751.2,753.2 758,761.2 763.7,770.2 C769.4,779.2 773.6,786.1 778.8,798.9 C784,811.7 789.7,830.9 795,847 C800.3,863.1 807.5,882 810.7,895.3 C813.9,908.6 812.9,916.5 814,927 C815.1,937.5 816.6,953 817.1,958.2" fill="none" stroke="#000" stroke-width="1.6" stroke-linejoin="round" stroke-linecap="round"/>
<path d="M817.1,958.2 L814.7,962.2 L811.5,961.4" fill="none" stroke="#000" stroke-width="2" stroke-linejoin="round" stroke-linecap="round"/>
<path d="M604.3,650.7 L608.9,648.4 Q610.7,647.5 612.5,646.7 L616.3,645.1" fill="none" stroke="#000" stroke-width="2" stroke-linejoin="round" stroke-linecap="round"/>
<path d="M616.3,645.1 C624.4,649.8 648.9,663.8 665,673 C681.1,682.2 702.1,693.6 712.7,700.1 C723.3,706.6 722.5,706.5 728.6,712.1 C734.7,717.7 742.9,726 749.3,733.6 C755.7,741.2 761.6,749.3 766.9,757.5 C772.2,765.7 777.6,775.8 781.2,783 C784.8,790.2 784.8,790 788.4,800.5 C792,811 798.2,830.9 803,846 C807.8,861.1 813.9,878.6 817.1,891.3 C820.3,904 820.5,911.9 822,922 C823.5,932.1 825.2,946.9 825.8,951.9" fill="none" stroke="#000" stroke-width="2" stroke-linejoin="round" stroke-linecap="round"/>
<path d="M825.8,951.9 L825.8,956.2 Q825.8,958.2 824.1,959.2 L819.6,962 Q817.9,963 816.3,962.6 L814.7,962.2" fill="none" stroke="#000" stroke-width="2" stroke-linejoin="round" stroke-linecap="round"/>
<line x1="610.7" y1="650.7" x2="604.3" y2="650.7" stroke="#000" stroke-width="0"/>
<path d="M462.3,1171 L460.2,1170.1 Q458.3,1169.4 456.9,1167.9 L263.4,962.8 Q260.7,959.9 258.2,956.8 L256,954.2 Q253.5,951.1 252.7,947.2 L252.3,945.5 Q251.2,939.9 251.2,933.9 L251.2,859.3 Q251.2,856.3 251.9,855.1 L251.9,855.1 Q252.7,853.9 254.6,853.3 L257.5,852.3" fill="none" stroke="#000" stroke-width="2" stroke-linejoin="round" stroke-linecap="round"/>
<path d="M257.5,855.5 C265.4,859.6 290.4,872.4 305,880 C319.6,887.6 335.5,895.7 345,901 C354.5,906.3 356.8,908 362,912 C367.2,916 371.4,920.1 376,925 C380.6,929.9 385.1,935.5 389.8,941.5 C394.5,947.5 399.9,954.6 404.1,960.7 C408.4,966.8 412.1,972.4 415.3,978.2 C418.5,984 419.1,984.1 423.2,995.7 C427.3,1007.3 434.4,1030.5 440,1048 C445.6,1065.5 453.2,1086.6 456.7,1100.9 C460.2,1115.2 459.7,1122.8 461,1134 C462.3,1145.2 464.1,1162.2 464.7,1167.8" fill="none" stroke="#000" stroke-width="1.6" stroke-linejoin="round" stroke-linecap="round"/>
<path d="M257.5,852.3 L259.1,850.7 L262,849.7 Q263.9,849.1 265.1,849.9 L266.3,850.7" fill="none" stroke="#000" stroke-width="2" stroke-linejoin="round" stroke-linecap="round"/>
<path d="M266.3,850.7 C273.6,854.8 296.1,867.3 310,875 C323.9,882.7 340.7,891.7 350,897 C359.3,902.3 361,903.3 366,907 C371,910.7 375.8,914.8 380,919 C384.2,923.2 387.1,927.2 391.4,932 C395.7,936.8 400.4,940.5 405.7,947.9 C411,955.3 418.7,968.1 423.2,976.6 C427.7,985.1 428.7,987.3 432.8,998.9 C436.9,1010.5 442.7,1030.1 448,1046 C453.3,1061.9 461.2,1080.8 464.7,1094.5 C468.2,1108.2 467.6,1116.8 469,1128 C470.4,1139.2 472.7,1155.8 473.4,1161.4" fill="none" stroke="#000" stroke-width="2" stroke-linejoin="round" stroke-linecap="round"/>
<path d="M473.4,1161.4 L473,1163 Q472.6,1164.6 470.8,1165.5 L466.5,1167.7 Q464.7,1168.6 463.5,1169.8 L462.3,1171" fill="none" stroke="#000" stroke-width="2" stroke-linejoin="round" stroke-linecap="round"/>
<path d="M319.2,839 L319.2,839 Q319.2,836 322.6,833.9 L429.3,766.7 Q433.5,764 438.2,762.5 L438.2,762.5 Q443,761 447.6,762.9 L451.3,764.5 Q455,766 458.5,768 L753.6,937 Q756.2,938.5 755.8,941.4 L755.6,942.2 Q755.3,944.2 753.5,945.1 L740.1,952.3 Q733,956 728.3,962.5 L727.2,964 Q721.4,972 724.8,981 L726.2,984.5 Q728.3,990.1 733.5,993.1 L769.1,1014 Q771.7,1015.5 773.4,1017.2 L773.6,1017.5 Q775,1019 774.4,1020.9 L774.2,1021.8 Q773.4,1024.5 770.8,1025.9 L719.8,1053.4 Q712.8,1057.2 708.7,1058.5 L708.7,1058.5 Q704.6,1059.7 700.5,1058.5 L700.5,1058.5 Q696.4,1057.2 691.2,1054.2 L324.6,844.5 Q322,843 320.6,842.5 L320.6,842.5 Q319.2,842 319.2,839Z" fill="none" stroke="#000" stroke-width="2" stroke-linejoin="round" stroke-linecap="round"/>
<path d="M319.2,842 L319.2,845 Q319.2,848 321.8,849.5 L691.2,1062.4 Q696.4,1065.4 700.5,1067.1 L700.5,1067.1 Q704.6,1068.7 709.5,1067.1 L709.5,1067.1 Q714.4,1065.4 721.4,1061.4 L770.8,1033.4 Q773.4,1031.9 774.2,1030.7 L774.2,1030.7 Q775,1029.4 775,1027.4 L775,1018" fill="none" stroke="#000" stroke-width="2" stroke-linejoin="round" stroke-linecap="round"/>
<path d="M757.4,940.1 L757.4,948 Q757.4,950 756.5,951.8 L756.2,952.2 Q755.3,954 753.5,954.9 L738.8,962 Q731.6,965.5 727.5,968.8 L723.5,972" fill="none" stroke="#000" stroke-width="2" stroke-linejoin="round" stroke-linecap="round"/>
<path d="M760.1,1121.7 L760.3,1122.7 Q760.5,1123.8 761.6,1123.9 L790.6,1126.9 Q793.3,1127.2 795.7,1128.6 L803.3,1133.3 Q805.7,1134.7 808.4,1134.9 L828.3,1135.9 Q831.7,1136.1 834.4,1134.7 L834.7,1134.6 Q837.1,1133.3 839.4,1131.8 L859.1,1118.3 L897.4,1098.4 L921,1085.4 Q923.4,1084.1 923.9,1081.4 L924.4,1077.9 Q924.8,1075.8 925.3,1073.8 L926.2,1070.3 Q926.8,1067.6 927.9,1065.1 L932.2,1054.5 Q933,1052.6 934.9,1051.9 L939.3,1050.5 Q941.2,1049.8 943,1048.8 L967,1034.5 Q970,1032.7 971.6,1029.7 L972.7,1027.6 Q974.1,1025.2 973.5,1022.5 L973.1,1020.3 Q972.7,1018.3 971,1017.2 L970.3,1016.7 Q968.6,1015.6 966.8,1014.6 L944.9,1001.9 Q942.6,1000.5 939.8,1000.8 L937.8,1001 Q935.7,1001.2 933.7,1001.4 L917.2,1003.1 Q915.2,1003.3 913.2,1003.9 L913,1004 Q911.1,1004.6 910.8,1002.6 L910.1,997.8 Q909.7,995.1 907.7,993.3 L907.2,993 Q905.6,991.6 903.5,991.6 L902.2,991.6 Q900.1,991.6 898.2,992.3 L897.3,992.6 Q896,993 895.5,991.7 L895.3,991.3 Q894.6,989.6 893.1,988.3 L892.1,987.5 Q890.5,986.2 888.5,986.2 L887.1,986.2 Q885.1,986.2 883.3,987.2 L848.4,1006.4 Q845.4,1008.1 842.8,1010.3 L841.9,1011.1 Q839.9,1012.9 838.9,1015.4 L838.8,1015.8 Q837.8,1018.3 837.8,1021.1 L837.2,1041.6 Q837.1,1044.3 835.2,1046.3 L835,1046.5 Q833,1048.5 830.5,1049.5 L826,1051.5 Q823.5,1052.6 821.7,1054.6 L820.5,1056 Q818.7,1058 818.5,1060.8 L818,1071.7 Q818,1073.1 816.6,1073.3 L811.8,1074.1 Q809.8,1074.5 808.6,1076.2 L808.2,1076.9 Q807,1078.6 806.9,1080.6 L806.4,1093.6 Q806.3,1095 805,1095.4 L802.9,1096 Q801.5,1096.4 800.3,1097 L773.9,1110.2 Q771.4,1111.4 769.2,1113 L760.9,1118.9 Q759.8,1119.6 760,1121Z" fill="none" stroke="#000" stroke-width="2" stroke-linejoin="round" stroke-linecap="round"/>
<path d="M846,1014.2 L885.8,992.3" fill="none" stroke="#000" stroke-width="1.8" stroke-linejoin="round" stroke-linecap="round"/>
<path d="M844.7,1021.1 L843.7,1022.4 Q842.6,1023.8 842.6,1026.5 L842.6,1043 Q842.6,1045.7 841,1047.9 L840.2,1049 Q838.5,1051.2 836.1,1052.4 L830,1055.4 Q827.6,1056.7 825.9,1058.9 L825.1,1060 Q823.5,1062.1 823.3,1064.9 L822.8,1075.8" fill="none" stroke="#000" stroke-width="1.8" stroke-linejoin="round" stroke-linecap="round"/>
<path d="M850.8,1060.8 L850.8,1027.2 Q850.8,1023.8 853.4,1021.6 L854.3,1020.8 Q856.3,1019 858.7,1017.8 L899.1,997 Q901.5,995.7 903.5,997.1 L903.9,997.3 Q905.6,998.5 906.2,1000.5 L906.4,1001.3 Q907,1003.3 907,1005.3 L907.7,1025.2" fill="none" stroke="#000" stroke-width="1.8" stroke-linejoin="round" stroke-linecap="round"/>
<path d="M856.3,1059.4 L856.3,1030 Q856.3,1026.5 858.4,1023.8 L858.8,1023.3 Q860.4,1021.1 862.9,1019.8 L901.5,1000.5" fill="none" stroke="#000" stroke-width="1.6" stroke-linejoin="round" stroke-linecap="round"/>
<path d="M860.4,1053.9 L902.9,1030" fill="none" stroke="#000" stroke-width="1.6" stroke-linejoin="round" stroke-linecap="round"/>
<path d="M886.4,1011.5 L887.1,1014.3 Q887.8,1017 890,1018.6 L902.9,1027.9" fill="none" stroke="#000" stroke-width="1.5" stroke-linejoin="round" stroke-linecap="round"/>
<path d="M850.8,1062.1 L873.1,1074.5 Q875.5,1075.8 876.9,1077.2 L877.3,1077.6 Q878.2,1078.6 878.8,1077.3 L880.7,1072.8 Q882.3,1069 885,1065.8 L886.5,1063.9 Q889.2,1060.8 893,1059.3 L899.1,1056.8 Q902.9,1055.3 906.8,1054.3 L923.5,1049.8 Q926.1,1049.1 928.9,1049 L936.4,1048.6 Q938.5,1048.5 940.2,1047.4 L970,1030.7" fill="none" stroke="#000" stroke-width="1.8" stroke-linejoin="round" stroke-linecap="round"/>
<path d="M911.1,1008.8 L913.1,1008.1 Q915.2,1007.4 917.9,1007.2 L935,1006.1 Q937.1,1006 938.7,1007.3 L939.6,1008.1 Q941.2,1009.4 943,1010.4 L970,1025.2" fill="none" stroke="#000" stroke-width="1.6" stroke-linejoin="round" stroke-linecap="round"/>
<path d="M908.3,1021.1 L912.6,1023.2 Q913.8,1023.8 915,1024.4 L938,1036.5 Q939.8,1037.5 941.4,1038.8 L943.9,1040.9" fill="none" stroke="#000" stroke-width="1.6" stroke-linejoin="round" stroke-linecap="round"/>
<path d="M938.5,1004.6 L971.3,1023.8" fill="none" stroke="#000" stroke-width="2.6" stroke-linejoin="round" stroke-linecap="round"/>
<path d="M817.3,1086.8 L820.3,1085.1 Q822.1,1084.1 823.9,1085 L849,1098.2 Q850.8,1099.1 852.9,1099.1 L854.3,1099.1 Q856.3,1099.1 858.1,1098 L881,1084.1" fill="none" stroke="#000" stroke-width="1.8" stroke-linejoin="round" stroke-linecap="round"/>
<path d="M819.3,1074.5 L849.5,1092.3 L850.8,1097.7" fill="none" stroke="#000" stroke-width="2.4" stroke-linejoin="round" stroke-linecap="round"/>
<path d="M815.2,1088.2 L815.9,1100.5 L831.7,1125.1 L834.4,1132" fill="none" stroke="#000" stroke-width="1.6" stroke-linejoin="round" stroke-linecap="round"/>
<path d="M807,1096.4 L812.5,1103.2 L820.7,1116.9 L823.5,1125.1" fill="none" stroke="#000" stroke-width="1.6" stroke-linejoin="round" stroke-linecap="round"/>
<path d="M902.2,1059.4 L902.2,1097.7" fill="none" stroke="#000" stroke-width="1.8" stroke-linejoin="round" stroke-linecap="round"/>
<path d="M857.7,1100.5 L858.4,1118.3" fill="none" stroke="#000" stroke-width="1.6" stroke-linejoin="round" stroke-linecap="round"/>
<ellipse cx="937.8" cy="1025.9" rx="5.5" ry="3" fill="none" stroke="#000" stroke-width="1.6"/>
<ellipse cx="849.5" cy="1076.5" rx="5.5" ry="3.2" fill="none" stroke="#000" stroke-width="1.6"/>
<ellipse cx="792" cy="1110.1" rx="15.5" ry="7" fill="none" stroke="#000" stroke-width="1.8" transform="rotate(-20 792 1110.1)"/>
<ellipse cx="790.9" cy="1110.8" rx="11" ry="4.5" fill="none" stroke="#000" stroke-width="1.4" transform="rotate(-20 790.9 1110.8)"/>
<path d="M768.7,1116.9 L786.9,1104.7 Q789.2,1103.2 791.7,1102.1 L801.5,1097.7" fill="none" stroke="#000" stroke-width="1.6" stroke-linejoin="round" stroke-linecap="round"/>
<path d="M794.7,1121 L797.5,1121.7 Q800.2,1122.4 802.9,1123 L819.3,1126.5" fill="none" stroke="#000" stroke-width="1.6" stroke-linejoin="round" stroke-linecap="round"/>
<path d="M801.5,1116.9 L819.3,1110.1" fill="none" stroke="#000" stroke-width="1.4" stroke-linejoin="round" stroke-linecap="round"/>
<g transform="translate(937.2 917) rotate(0)"><ellipse cx="0" cy="0" rx="10.8" ry="4" fill="none" stroke="#000" stroke-width="1.8"/><path d="M-10.8,0 L-10.8,3.5 A10.8,4 0 0 0 10.8,3.5 L10.8,0" fill="none" stroke="#000" stroke-width="1.8" stroke-linejoin="round"/></g>
<path d="M929,916 L929.5,910 L933,907 L941,907 L945,910 L945.5,916" fill="none" stroke="#000" stroke-width="1.8" stroke-linejoin="round" stroke-linecap="round"/>
<path d="M933,907 L934,912 L940,912 L941,907" fill="none" stroke="#000" stroke-width="1.3" stroke-linejoin="round" stroke-linecap="round"/>
<line x1="934" y1="912" x2="934" y2="918" stroke="#000" stroke-width="1.3"/>
<line x1="940" y1="912" x2="940" y2="918" stroke="#000" stroke-width="1.3"/>
<rect x="932" y="923" width="10.5" height="22.5" rx="3" fill="none" stroke="#000" stroke-width="1.8"/>
<line x1="932.5" y1="927" x2="942" y2="925.8" stroke="#000" stroke-width="1.3"/>
<line x1="932.5" y1="930" x2="942" y2="928.8" stroke="#000" stroke-width="1.3"/>
<line x1="932.5" y1="933" x2="942" y2="931.8" stroke="#000" stroke-width="1.3"/>
<line x1="932.5" y1="936" x2="942" y2="934.8" stroke="#000" stroke-width="1.3"/>
<line x1="932.5" y1="939" x2="942" y2="937.8" stroke="#000" stroke-width="1.3"/>
<line x1="932.5" y1="942" x2="942" y2="940.8" stroke="#000" stroke-width="1.3"/>
<g transform="translate(813.5 1179) rotate(-16)"><ellipse cx="0" cy="0" rx="20.5" ry="5.2" fill="none" stroke="#000" stroke-width="2"/><path d="M-20.5,0 L-20.5,6.5 A20.5,5.2 0 0 0 20.5,6.5 L20.5,0" fill="none" stroke="#000" stroke-width="2" stroke-linejoin="round"/></g>
<g transform="translate(818 1191) rotate(-16)"><path d="M-21.5,0 L-21.5,6.5 A21.5,5.5 0 0 0 21.5,6.5 L21.5,0" fill="none" stroke="#000" stroke-width="2" stroke-linejoin="round"/></g>
<ellipse cx="816" cy="1177.5" rx="9" ry="2.6" transform="rotate(-16 816 1177.5)" fill="#000"/>
<ellipse cx="831" cy="1236.5" rx="20.5" ry="4.8" fill="none" stroke="#000" stroke-width="2.2" transform="rotate(-20 831 1236.5)"/>
<path d="M818.5,1224.5 L821.5,1239.5 L839,1234.5 L836,1219.5" fill="none" stroke="#000" stroke-width="1.8" stroke-linejoin="round" stroke-linecap="round"/>
<ellipse cx="827.2" cy="1222" rx="9.2" ry="3.2" fill="none" stroke="#000" stroke-width="2.2" transform="rotate(-16 827.2 1222)"/>
<g transform="translate(846.8 1286.6) rotate(-14.8)"><rect x="-5.6" y="-23.5" width="11.2" height="23" rx="2.5" fill="none" stroke="#000" stroke-width="2"/><line x1="-5.2" y1="-19" x2="5.2" y2="-20.5" stroke="#000" stroke-width="1.6"/><line x1="-5.2" y1="-14.8" x2="5.2" y2="-16.3" stroke="#000" stroke-width="1.6"/><line x1="-5.2" y1="-10.6" x2="5.2" y2="-12.1" stroke="#000" stroke-width="1.6"/><line x1="-5.2" y1="-6.4" x2="5.2" y2="-7.9" stroke="#000" stroke-width="1.6"/><line x1="-5.2" y1="-2.2" x2="5.2" y2="-3.7" stroke="#000" stroke-width="1.6"/><ellipse cx="0" cy="3" rx="13.5" ry="5" fill="none" stroke="#000" stroke-width="2.6"/><path d="M-8,6 L-8,14 L-3,16 L6,16 L9,13 L9,5" fill="none" stroke="#000" stroke-width="2"/><line x1="-4" y1="8" x2="-4" y2="15" stroke="#000" stroke-width="1.4"/><line x1="5" y1="8" x2="5" y2="15" stroke="#000" stroke-width="1.4"/></g>
<ellipse cx="1194.1" cy="948.4" rx="11.5" ry="6" fill="none" stroke="#000" stroke-width="2"/>
<ellipse cx="1170.5" cy="952" rx="3" ry="7" fill="none" stroke="#000" stroke-width="1.8" transform="rotate(35 1170.5 952)"/>
<ellipse cx="1188" cy="961" rx="3" ry="6" fill="none" stroke="#000" stroke-width="1.8" transform="rotate(35 1188 961)"/>
<path d="M1183.1,991 L1183.1,1050 L1187,1053" fill="none" stroke="#000" stroke-width="2" stroke-linejoin="round" stroke-linecap="round"/>
<path d="M1203.9,991 L1203.9,1050 L1200,1053" fill="none" stroke="#000" stroke-width="2" stroke-linejoin="round" stroke-linecap="round"/>
<ellipse cx="1193.5" cy="990.5" rx="10.4" ry="4.2" fill="none" stroke="#000" stroke-width="2"/>
<ellipse cx="1193.5" cy="990.5" rx="6" ry="2.3" fill="none" stroke="#000" stroke-width="1.6"/>
<path d="M1186,1049 L1183,1052 L1197,1064 L1200,1062" fill="none" stroke="#000" stroke-width="1.6" stroke-linejoin="round" stroke-linecap="round"/>
<path d="M1188,1047 L1203,1059 L1201,1062" fill="none" stroke="#000" stroke-width="1.6" stroke-linejoin="round" stroke-linecap="round"/>
<path d="M1183.1,1061 C1183.1,1069 1181.4,1100.2 1183.1,1109 C1184.8,1117.8 1190,1113.5 1193.5,1113.5 C1197,1113.5 1202.2,1117.8 1203.9,1109 C1205.6,1100.2 1203.9,1069 1203.9,1061" fill="none" stroke="#000" stroke-width="2" stroke-linejoin="round" stroke-linecap="round"/>
<path d="M1183.1,1061 C1183.6,1060.7 1184.8,1059 1186,1059 C1187.2,1059 1189.3,1060.7 1190,1061" fill="none" stroke="#000" stroke-width="1.6" stroke-linejoin="round" stroke-linecap="round"/>
<g transform="translate(1170 313.5) rotate(0)"><ellipse cx="0" cy="0" rx="18.8" ry="9" fill="none" stroke="#000" stroke-width="2.2"/><path d="M-18.8,0 L-18.8,5 A18.8,9 0 0 0 18.8,5 L18.8,0" fill="none" stroke="#000" stroke-width="2.2" stroke-linejoin="round"/></g>
<g transform="translate(1169.5 297.5) rotate(0)"><ellipse cx="0" cy="0" rx="10.8" ry="5" fill="none" stroke="#000" stroke-width="2"/><path d="M-10.8,0 L-10.8,12 A10.8,5 0 0 0 10.8,12 L10.8,0" fill="none" stroke="#000" stroke-width="2" stroke-linejoin="round"/></g>
<path d="M1161,298 C1161.7,297.6 1163.2,296 1165,295.5 C1166.8,295 1170,294.8 1172,295 C1174,295.2 1176.2,296.7 1177,297" fill="none" stroke="#000" stroke-width="1.5" stroke-linejoin="round" stroke-linecap="round"/>
<ellipse cx="1302.5" cy="438" rx="8.7" ry="6.3" fill="none" stroke="#000" stroke-width="1.8"/>
<line x1="1298" y1="434" x2="1307" y2="442" stroke="#000" stroke-width="1.4"/>
<line x1="1298" y1="442" x2="1307" y2="434" stroke="#000" stroke-width="1.4"/>
<path d="M1294,439 C1294,439.7 1292.6,441.8 1294,443 C1295.4,444.2 1299.7,446 1302.5,446 C1305.3,446 1309.6,444.2 1311,443 C1312.4,441.8 1311,439.7 1311,439" fill="none" stroke="#000" stroke-width="1.6" stroke-linejoin="round" stroke-linecap="round"/>
<rect x="1297.5" y="445" width="10" height="26" rx="4" fill="none" stroke="#000" stroke-width="1.8"/>
<line x1="1298" y1="449" x2="1307" y2="449" stroke="#000" stroke-width="1.2"/>
<line x1="1298" y1="453" x2="1307" y2="453" stroke="#000" stroke-width="1.2"/>
<line x1="1298" y1="457" x2="1307" y2="457" stroke="#000" stroke-width="1.2"/>
<line x1="1298" y1="461" x2="1307" y2="461" stroke="#000" stroke-width="1.2"/>
<line x1="1298" y1="465" x2="1307" y2="465" stroke="#000" stroke-width="1.2"/>
<line x1="1298" y1="469" x2="1307" y2="469" stroke="#000" stroke-width="1.2"/>
<rect x="1345" y="416" width="21.3" height="18" rx="5" fill="none" stroke="#000" stroke-width="1.8"/>
<ellipse cx="1355.6" cy="419.5" rx="9" ry="4" fill="none" stroke="#000" stroke-width="1.6"/>
<path d="M1351,419 L1353,416.5 L1358,416.5 L1360,419 L1358,421.5 L1353,421.5Z" fill="none" stroke="#000" stroke-width="1.3" stroke-linejoin="round" stroke-linecap="round"/>
<line x1="1348" y1="424" x2="1348" y2="433" stroke="#000" stroke-width="1.1"/>
<line x1="1351" y1="424" x2="1351" y2="433" stroke="#000" stroke-width="1.1"/>
<line x1="1354" y1="424" x2="1354" y2="433" stroke="#000" stroke-width="1.1"/>
<line x1="1357" y1="424" x2="1357" y2="433" stroke="#000" stroke-width="1.1"/>
<line x1="1360" y1="424" x2="1360" y2="433" stroke="#000" stroke-width="1.1"/>
<line x1="1363" y1="424" x2="1363" y2="433" stroke="#000" stroke-width="1.1"/>
<rect x="1350" y="434" width="11.3" height="28" rx="4" fill="none" stroke="#000" stroke-width="1.8"/>
<line x1="1350.5" y1="439" x2="1360.5" y2="439" stroke="#000" stroke-width="1.2"/>
<line x1="1350.5" y1="443" x2="1360.5" y2="443" stroke="#000" stroke-width="1.2"/>
<line x1="1350.5" y1="447" x2="1360.5" y2="447" stroke="#000" stroke-width="1.2"/>
<line x1="1350.5" y1="451" x2="1360.5" y2="451" stroke="#000" stroke-width="1.2"/>
<line x1="1350.5" y1="455" x2="1360.5" y2="455" stroke="#000" stroke-width="1.2"/>
<line x1="1350.5" y1="459" x2="1360.5" y2="459" stroke="#000" stroke-width="1.2"/>
<ellipse cx="1304.8" cy="537.8" rx="74.3" ry="44.6" fill="none" stroke="#000" stroke-width="2"/>
<ellipse cx="1304.8" cy="538.5" rx="71" ry="41.5" fill="none" stroke="#000" stroke-width="1.4"/>
<ellipse cx="1305.3" cy="534.5" rx="51.8" ry="30.3" fill="none" stroke="#000" stroke-width="2"/>
<ellipse cx="1262.3" cy="508.6" rx="6" ry="3.8" fill="none" stroke="#000" stroke-width="1.6"/>
<ellipse cx="1311.9" cy="499.4" rx="6" ry="3.8" fill="none" stroke="#000" stroke-width="1.6"/>
<ellipse cx="1356" cy="515.2" rx="6" ry="3.8" fill="none" stroke="#000" stroke-width="1.6"/>
<ellipse cx="1244.7" cy="538.4" rx="6" ry="3.8" fill="none" stroke="#000" stroke-width="1.6"/>
<ellipse cx="1362.6" cy="545" rx="6" ry="3.8" fill="none" stroke="#000" stroke-width="1.6"/>
<ellipse cx="1272.2" cy="563.7" rx="6" ry="3.8" fill="none" stroke="#000" stroke-width="1.6"/>
<ellipse cx="1325.1" cy="565.9" rx="6" ry="3.8" fill="none" stroke="#000" stroke-width="1.6"/>
<path d="M1264,523 L1285,512 L1290,520 L1295,525 L1310,521 L1322,519 L1320,526 L1318,530 L1322,538 L1320,541 L1312,541 L1300,545 L1283,546 L1281,543 L1285,537 L1290,530 L1280,525 L1267,527Z" fill="none" stroke="#000" stroke-width="1.8" stroke-linejoin="round" stroke-linecap="round"/>
<ellipse cx="1282" cy="521" rx="4" ry="2.5" fill="none" stroke="#000" stroke-width="1.4"/>
<path d="M1265,525 L1285,514" fill="none" stroke="#000" stroke-width="1.4" stroke-linejoin="round" stroke-linecap="round"/>
<ellipse cx="1306" cy="535" rx="8" ry="6" fill="none" stroke="#000" stroke-width="1.4" transform="rotate(-30 1306 535)"/>
<path d="M1372.1,663.6 L1374.8,657.9 L1376.2,651.9 L1376.3,645.9 L1375,640 L1372.3,634.2 L1368.4,628.7 L1363.3,623.6 L1357,619 L1349.8,614.9 L1341.7,611.4 L1332.9,608.7 L1323.6,606.7 L1313.9,605.5 L1304,605.1 L1294.1,605.5 L1284.4,606.8 L1275.1,608.8 L1266.4,611.6 L1258.3,615.1 L1251.1,619.2 L1245,623.9 L1239.9,629.1 L1236.1,634.6 L1233.5,640.4 L1232.3,646.3 L1232.4,652.3 L1233.9,658.2 L1236.8,664 L1240.9,669.4 L1246.2,674.5 L1252.5,679.1 L1259.9,683.1 L1268.1,686.4 L1277,689.1 L1286.4,690.9 L1296.1,692 L1306,692.3 L1315.9,691.7 L1325.5,690.4 L1334.8,688.2" fill="none" stroke="#000" stroke-width="2.2" stroke-linejoin="round" stroke-linecap="round"/>
<path d="M1367.8,663.7 L1370.7,658.5 L1372.4,653.1 L1372.8,647.6 L1371.9,642.2 L1369.7,636.8 L1366.3,631.7 L1361.8,626.9 L1356.2,622.6 L1349.6,618.7 L1342.1,615.3 L1334,612.6 L1325.2,610.6 L1316.1,609.3 L1306.8,608.7 L1297.4,608.9 L1288.2,609.8 L1279.3,611.5 L1270.8,613.8 L1262.9,616.8 L1255.9,620.4 L1249.7,624.5 L1244.6,629.1 L1240.5,634.1 L1237.7,639.3 L1236.1,644.7 L1235.8,650.2 L1236.8,655.6 L1239.1,660.9 L1242.6,666 L1247.2,670.8 L1252.9,675.1 L1259.5,679 L1267,682.3 L1275.2,684.9 L1284,686.9 L1293.1,688.2 L1302.4,688.7 L1311.8,688.5 L1321,687.5 L1330,685.8" fill="none" stroke="#000" stroke-width="1.6" stroke-linejoin="round" stroke-linecap="round"/>
<path d="M1246.2,650.9 L1246.7,648.7 L1247.3,646.5 L1248.2,644.3 L1249.3,642.2 L1250.7,640.1 L1252.2,638.1 L1254,636.1 L1256,634.2 L1258.1,632.4 L1260.5,630.7 L1263,629.1 L1265.7,627.5 L1268.5,626.1 L1271.5,624.8 L1274.6,623.7 L1277.8,622.6 L1281.2,621.7 L1284.6,620.9 L1288.1,620.2 L1291.6,619.7 L1295.2,619.3 L1298.9,619.1 L1302.5,619 L1306.2,619.1 L1309.8,619.3 L1313.4,619.6 L1317,620.1 L1320.5,620.7 L1324,621.5 L1327.3,622.3 L1330.6,623.4 L1333.7,624.5 L1336.7,625.8 L1339.6,627.2 L1342.3,628.7 L1344.9,630.3 L1347.3,632 L1349.5,633.8 L1351.5,635.6 L1353.3,637.6" fill="none" stroke="#000" stroke-width="2" stroke-linejoin="round" stroke-linecap="round"/>
<path d="M1241.6,646.6 L1242.3,644.1 L1243.3,641.6 L1244.5,639.2 L1246,636.8 L1247.8,634.5 L1249.7,632.3 L1252,630.1 L1254.4,628.1 L1257.1,626.1 L1259.9,624.3 L1263,622.6 L1266.2,621 L1269.6,619.6 L1273.1,618.3 L1276.8,617.1 L1280.6,616.1 L1284.5,615.3 L1288.4,614.6 L1292.4,614.1 L1296.5,613.7 L1300.6,613.5 L1304.7,613.5 L1308.8,613.7 L1312.9,614 L1316.9,614.5 L1320.9,615.1 L1324.8,616 L1328.6,616.9 L1332.3,618.1 L1335.9,619.4 L1339.3,620.8 L1342.5,622.3 L1345.6,624 L1348.5,625.8 L1351.2,627.8 L1353.7,629.8 L1355.9,631.9 L1357.9,634.2 L1359.7,636.5 L1361.3,638.8" fill="none" stroke="#000" stroke-width="1.4" stroke-linejoin="round" stroke-linecap="round"/>
<path d="M1296.8,693.9 L1294.7,693.7 L1292.6,693.6 L1290.6,693.4 L1288.5,693.1 L1286.5,692.8 L1284.5,692.5 L1282.5,692.1 L1280.5,691.7 L1278.6,691.3 L1276.6,690.8 L1274.8,690.3 L1272.9,689.7 L1271.1,689.1 L1269.3,688.5 L1267.6,687.9 L1265.9,687.2 L1264.2,686.4 L1262.6,685.7 L1261.1,684.9 L1259.6,684 L1258.1,683.2 L1256.7,682.3 L1255.4,681.4 L1254.1,680.5 L1252.9,679.5 L1251.7,678.5 L1250.6,677.5 L1249.5,676.5 L1248.5,675.4 L1247.6,674.4 L1246.8,673.3 L1246,672.2 L1245.3,671.1 L1244.6,669.9 L1244,668.8 L1243.5,667.6 L1243.1,666.5 L1242.7,665.3 L1242.4,664.1 L1242.2,663" fill="none" stroke="#000" stroke-width="1.8" stroke-linejoin="round" stroke-linecap="round"/>
<ellipse cx="1303.8" cy="661.3" rx="35.5" ry="21.4" fill="none" stroke="#000" stroke-width="2"/>
<ellipse cx="1304" cy="664.7" rx="33.3" ry="17.2" fill="none" stroke="#000" stroke-width="2.2"/>
<ellipse cx="1261.2" cy="624.9" rx="7.6" ry="6.4" fill="none" stroke="#000" stroke-width="2"/>
<ellipse cx="1310.5" cy="614.9" rx="7.4" ry="6.4" fill="none" stroke="#000" stroke-width="2"/>
<ellipse cx="1353.5" cy="630.9" rx="6.6" ry="6.2" fill="none" stroke="#000" stroke-width="2"/>
<ellipse cx="1244" cy="652.8" rx="7.6" ry="6.2" fill="none" stroke="#000" stroke-width="2"/>
<ellipse cx="1347" cy="648" rx="13.3" ry="7.1" fill="none" stroke="#000" stroke-width="2"/>
<ellipse cx="1345" cy="658.9" rx="5.7" ry="3.9" fill="none" stroke="#000" stroke-width="2"/>
<path d="M1314.5,623.7 C1314.7,625.5 1314.5,631.5 1315.5,634.2 C1316.5,636.9 1318.5,638.9 1320.2,639.9 C1322,640.9 1323,642 1326,640.4 C1329,638.8 1336.9,633.3 1338.3,630.4 C1339.7,627.5 1335.1,624.1 1334.5,622.8" fill="none" stroke="#000" stroke-width="1.8" stroke-linejoin="round" stroke-linecap="round"/>
<path d="M1364,645 C1364.8,646.7 1367.9,652 1369,655 C1370.1,658 1370.2,661.7 1370.5,663" fill="none" stroke="#000" stroke-width="3.2" stroke-linejoin="round" stroke-linecap="round"/>
<circle cx="1369.5" cy="663.5" r="3.2" fill="#000"/>
<path d="M1290,681 C1294.7,681.5 1311.7,684.2 1318,684 C1324.3,683.8 1326.3,680.7 1328,680" fill="none" stroke="#000" stroke-width="1.6" stroke-linejoin="round" stroke-linecap="round"/>
<path d="M1351,664 C1351.5,665.3 1354.2,669.5 1354,672 C1353.8,674.5 1350.7,677.8 1350,679" fill="none" stroke="#000" stroke-width="1.6" stroke-linejoin="round" stroke-linecap="round"/>
<ellipse cx="1268" cy="677.5" rx="5" ry="2.2" fill="none" stroke="#000" stroke-width="1.5"/>
<path d="M1264,632 L1267,639" fill="none" stroke="#000" stroke-width="1.4" stroke-linejoin="round" stroke-linecap="round"/>
<path d="M1290,642 C1290.3,641.2 1291,637.2 1292,637 C1293,636.8 1295.3,640.3 1296,641" fill="none" stroke="#000" stroke-width="1.6" stroke-linejoin="round" stroke-linecap="round"/>
<path d="M1060.2,1280 L1062.4,1273.8 L1070,1269.5 L1074.8,1270 L1081,1274.3 L1081.9,1280 L1076.7,1291 L1069,1294.3 L1061.9,1289.5Z" fill="none" stroke="#000" stroke-width="2.2" stroke-linejoin="round" stroke-linecap="round"/>
<path d="M1062.4,1273.8 L1069,1276.5 L1074.8,1270" fill="none" stroke="#000" stroke-width="1.6" stroke-linejoin="round" stroke-linecap="round"/>
<path d="M1069,1276.5 L1068,1286 L1069,1294.3" fill="none" stroke="#000" stroke-width="1.6" stroke-linejoin="round" stroke-linecap="round"/>
<ellipse cx="1075.5" cy="1286" rx="4.8" ry="6" fill="none" stroke="#000" stroke-width="2" transform="rotate(-20 1075.5 1286)"/>
<g transform="translate(1087 1290.5) rotate(32)"><path d="M-7,-5.2 L7,-5.2 L9,-3 L9,3 L7,5.2 L-7,5.2" fill="none" stroke="#000" stroke-width="2.2"/><line x1="-5" y1="-5" x2="-6" y2="5" stroke="#000" stroke-width="2.4"/><line x1="-2" y1="-5" x2="-3" y2="5" stroke="#000" stroke-width="2.4"/><line x1="1" y1="-5" x2="0" y2="5" stroke="#000" stroke-width="2.4"/><line x1="4" y1="-5" x2="3" y2="5" stroke="#000" stroke-width="2.4"/><line x1="7" y1="-5" x2="6" y2="5" stroke="#000" stroke-width="2.4"/></g>
<path d="M1129.4,1328.7 C1128.5,1320.4 1128.7,1298.2 1129.4,1289 C1130.2,1279.8 1131.6,1278.9 1133.9,1273.2 C1136.2,1267.5 1139.6,1260 1143,1255.1 C1146.4,1250.2 1149.2,1247.8 1154.3,1243.8 C1159.4,1239.8 1167.8,1233.9 1173.5,1231.4 C1179.2,1228.9 1183.5,1228.4 1188.2,1228.6 C1192.9,1228.8 1198.7,1230.6 1201.8,1232.5 C1204.9,1234.4 1205.8,1235.1 1207,1240 C1208.2,1244.9 1209.3,1253.7 1209,1262 C1208.7,1270.3 1206.6,1281.5 1205,1290 C1203.4,1298.5 1201.9,1307.1 1199.5,1312.8 C1197.1,1318.5 1195.8,1319.2 1190.5,1324.1 C1185.2,1329 1174.5,1338.6 1167.9,1342.2 C1161.3,1345.8 1156.4,1346.2 1150.9,1345.6 C1145.4,1345 1138.6,1341.6 1135,1338.8 C1131.4,1336 1130.3,1337 1129.4,1328.7Z" fill="none" stroke="#000" stroke-width="2.4" stroke-linejoin="round" stroke-linecap="round"/>
<path d="M1133,1326 C1132.2,1318.5 1132.3,1298.5 1133,1290 C1133.7,1281.5 1134.8,1280.3 1137,1275 C1139.2,1269.7 1142.8,1262.6 1146,1258 C1149.2,1253.4 1151.3,1251.2 1156,1247.5 C1160.7,1243.8 1168.7,1237.9 1174,1235.5 C1179.3,1233.1 1183.7,1232.8 1188,1233 C1192.3,1233.2 1197.2,1234.8 1200,1236.5 C1202.8,1238.2 1203.6,1238.6 1204.5,1243 C1205.4,1247.4 1206,1255.2 1205.5,1263 C1205,1270.8 1203.1,1282.2 1201.5,1290 C1199.9,1297.8 1198.2,1305 1196,1310 C1193.8,1315 1192.8,1315.4 1188,1320 C1183.2,1324.6 1173,1334 1167,1337.5 C1161,1341 1156.8,1341.4 1152,1341 C1147.2,1340.6 1141.2,1337.5 1138,1335 C1134.8,1332.5 1133.8,1333.5 1133,1326Z" fill="none" stroke="#000" stroke-width="1.4" stroke-linejoin="round" stroke-linecap="round"/>
<path d="M1163.3,1259.7 C1167.1,1256.7 1174.1,1253.3 1179.2,1252.9 C1184.3,1252.5 1190.7,1254.4 1193.9,1257.4 C1197.1,1260.4 1198.7,1264.2 1198.4,1271 C1198.1,1277.8 1195.2,1290.1 1192,1298 C1188.8,1305.9 1184.2,1314.2 1179.2,1318.5 C1174.2,1322.8 1166.7,1324.7 1162.2,1324.1 C1157.7,1323.5 1153.9,1320.4 1152,1315.1 C1150.1,1309.8 1150.1,1299.8 1150.9,1292.5 C1151.7,1285.2 1154.5,1276.5 1156.6,1271 C1158.7,1265.5 1159.5,1262.7 1163.3,1259.7Z" fill="none" stroke="#000" stroke-width="2.2" stroke-linejoin="round" stroke-linecap="round"/>
<ellipse cx="1172.4" cy="1250.6" rx="2.8" ry="4.2" fill="none" stroke="#000" stroke-width="1.8" transform="rotate(30 1172.4 1250.6)"/>
<ellipse cx="1200.7" cy="1254" rx="2.8" ry="4.2" fill="none" stroke="#000" stroke-width="1.8" transform="rotate(30 1200.7 1254)"/>
<ellipse cx="1147.5" cy="1284.5" rx="2.8" ry="4.2" fill="none" stroke="#000" stroke-width="1.8" transform="rotate(30 1147.5 1284.5)"/>
<ellipse cx="1146.4" cy="1323" rx="2.8" ry="4.2" fill="none" stroke="#000" stroke-width="1.8" transform="rotate(30 1146.4 1323)"/>
<ellipse cx="1173.5" cy="1327.5" rx="2.8" ry="4.2" fill="none" stroke="#000" stroke-width="1.8" transform="rotate(30 1173.5 1327.5)"/>
<path d="M1170,1275 C1173.3,1275.7 1182.5,1276.3 1190,1279 C1197.5,1281.7 1206.2,1287 1215,1291 C1223.8,1295 1238.3,1301 1243,1303" fill="none" stroke="#000" stroke-width="2" stroke-linejoin="round" stroke-linecap="round"/>
<path d="M1170,1282 C1173.3,1282.7 1183,1283.5 1190,1286 C1197,1288.5 1204.3,1293 1212,1297 C1219.7,1301 1232,1307.8 1236,1310" fill="none" stroke="#000" stroke-width="2" stroke-linejoin="round" stroke-linecap="round"/>
<path d="M1160,1291 C1163.3,1292 1173.3,1294.5 1180,1297 C1186.7,1299.5 1193.8,1302.8 1200,1306 C1206.2,1309.2 1214.2,1314.3 1217,1316" fill="none" stroke="#000" stroke-width="2" stroke-linejoin="round" stroke-linecap="round"/>
<path d="M1160,1298 C1163.3,1299 1173.7,1301.5 1180,1304 C1186.3,1306.5 1192.8,1310 1198,1313 C1203.2,1316 1208.8,1320.5 1211,1322" fill="none" stroke="#000" stroke-width="2" stroke-linejoin="round" stroke-linecap="round"/>
<ellipse cx="1168" cy="1278.5" rx="4.2" ry="5.2" fill="none" stroke="#000" stroke-width="2"/>
<path d="M1157,1290 C1157,1292.5 1156.3,1300.7 1157,1305 C1157.7,1309.3 1160.3,1314.2 1161,1316" fill="none" stroke="#000" stroke-width="1.6" stroke-linejoin="round" stroke-linecap="round"/>
<path d="M1208,1237 C1208.7,1234.2 1209.2,1225.2 1212,1220 C1214.8,1214.8 1219.8,1209.2 1225,1206 C1230.2,1202.8 1240,1201.8 1243,1201" fill="none" stroke="#000" stroke-width="2" stroke-linejoin="round" stroke-linecap="round"/>
<path d="M1208,1237 C1208,1241.7 1207.2,1257.5 1208,1265 C1208.8,1272.5 1212.2,1279.2 1213,1282" fill="none" stroke="#000" stroke-width="1.6" stroke-linejoin="round" stroke-linecap="round"/>
<path d="M1230,1312 C1231.7,1313 1235.8,1316.7 1240,1318 C1244.2,1319.3 1250.3,1321.3 1255,1320 C1259.7,1318.7 1265.8,1311.7 1268,1310" fill="none" stroke="#000" stroke-width="2" stroke-linejoin="round" stroke-linecap="round"/>
<path d="M1243,1208 L1266,1192 L1272,1195.5 L1273,1296 L1270,1311 L1264,1311 L1265,1297 L1264,1200 L1266,1192" fill="none" stroke="#000" stroke-width="2" stroke-linejoin="round" stroke-linecap="round"/>
<path d="M1243,1208 L1246,1235 L1248,1290 L1252,1305" fill="none" stroke="#000" stroke-width="1.6" stroke-linejoin="round" stroke-linecap="round"/>
<ellipse cx="1256" cy="1210" rx="2" ry="2.5" fill="none" stroke="#000" stroke-width="1.3"/>
<ellipse cx="1256" cy="1285" rx="2" ry="2.5" fill="none" stroke="#000" stroke-width="1.3"/>
<path d="M1233,1230 L1246,1238" fill="none" stroke="#000" stroke-width="1.6" stroke-linejoin="round" stroke-linecap="round"/>
<path d="M1235,1226 L1246,1232" fill="none" stroke="#000" stroke-width="1.3" stroke-linejoin="round" stroke-linecap="round"/>
<path d="M1233,1220 C1232.3,1225 1229.3,1240 1229,1250 C1228.7,1260 1229.5,1272 1231,1280 C1232.5,1288 1236.8,1295 1238,1298" fill="none" stroke="#000" stroke-width="1.5" stroke-linejoin="round" stroke-linecap="round"/>
<path d="M1257,1250 L1262,1255 L1195,1356 L1150,1460" fill="none" stroke="#000" stroke-width="1.8" stroke-linejoin="round" stroke-linecap="round"/>
<path d="M1253,1255 L1191,1356 L1146,1458" fill="none" stroke="#000" stroke-width="1.5" stroke-linejoin="round" stroke-linecap="round"/>
<path d="M1145,1458 C1142.8,1458.8 1137.8,1463 1132,1463 C1126.2,1463 1115.3,1461.8 1110,1458 C1104.7,1454.2 1101.3,1446.3 1100,1440 C1098.7,1433.7 1099.5,1425 1102,1420 C1104.5,1415 1111.2,1412 1115,1410 C1118.8,1408 1121.3,1407.3 1125,1408 C1128.7,1408.7 1131.2,1410.7 1137,1414 C1142.8,1417.3 1155.2,1423.7 1160,1428 C1164.8,1432.3 1166,1435.5 1166,1440 C1166,1444.5 1162.7,1451.7 1160,1455 C1157.3,1458.3 1151.7,1459.2 1150,1460" fill="none" stroke="#000" stroke-width="2" stroke-linejoin="round" stroke-linecap="round"/>
<path d="M1130,1430 C1129.7,1432.5 1127.7,1440.8 1128,1445 C1128.3,1449.2 1131.3,1453.3 1132,1455" fill="none" stroke="#000" stroke-width="1.4" stroke-linejoin="round" stroke-linecap="round"/>
<path d="M1150,1348 C1150.3,1351.7 1150.3,1365 1152,1370 C1153.7,1375 1157.3,1376 1160,1378 C1162.7,1380 1166.7,1381.3 1168,1382" fill="none" stroke="#000" stroke-width="1.8" stroke-linejoin="round" stroke-linecap="round"/>
<path d="M1160,1345 C1160.2,1347.5 1159.7,1355.5 1161,1360 C1162.3,1364.5 1166.2,1369 1168,1372 C1169.8,1375 1171.3,1377 1172,1378" fill="none" stroke="#000" stroke-width="1.5" stroke-linejoin="round" stroke-linecap="round"/>
<ellipse cx="1168" cy="1381" rx="3" ry="3" fill="none" stroke="#000" stroke-width="1.5"/>
<g transform="translate(1199 1393) rotate(31)"><path d="M2,-3.5 L44,-3.5 M2,3.5 L44,3.5" stroke="#000" stroke-width="1.8" fill="none"/><ellipse cx="1.5" cy="0" rx="2" ry="3.5" fill="none" stroke="#000" stroke-width="1.6"/><path d="M40,-3.5 L40,3.5 M44,-5 L44,5" stroke="#000" stroke-width="1.4" fill="none"/><rect x="44" y="-7.5" width="16" height="15" fill="none" stroke="#000" stroke-width="1.8"/><path d="M60,-10 L86,-10 L89,-7 L89,9 L60,9 Z" fill="none" stroke="#000" stroke-width="1.8"/><path d="M60,-10 L63,-13 L88,-13 L89,-7" fill="none" stroke="#000" stroke-width="1.5"/><rect x="78" y="-1" width="7" height="6" fill="none" stroke="#000" stroke-width="1.5"/></g>
<ellipse cx="1323.5" cy="1359.5" rx="37" ry="56" fill="none" stroke="#000" stroke-width="2.4" transform="rotate(22 1323.5 1359.5)"/>
<ellipse cx="1323.5" cy="1360" rx="34" ry="53" fill="none" stroke="#000" stroke-width="1.5" transform="rotate(22 1323.5 1360)"/>
<ellipse cx="1322.8" cy="1365" rx="20" ry="33.5" fill="none" stroke="#000" stroke-width="2.2" transform="rotate(22 1322.8 1365)"/>
<ellipse cx="1323" cy="1364" rx="23" ry="36.5" fill="none" stroke="#000" stroke-width="1.4" transform="rotate(22 1323 1364)"/>
<ellipse cx="1323" cy="1318" rx="2.5" ry="4" fill="none" stroke="#000" stroke-width="1.4" transform="rotate(22 1323 1318)"/>
<ellipse cx="1349" cy="1326" rx="2.5" ry="4" fill="none" stroke="#000" stroke-width="1.4" transform="rotate(22 1349 1326)"/>
<ellipse cx="1298" cy="1345" rx="2.5" ry="4" fill="none" stroke="#000" stroke-width="1.4" transform="rotate(22 1298 1345)"/>
<ellipse cx="1351" cy="1362" rx="2.5" ry="4" fill="none" stroke="#000" stroke-width="1.4" transform="rotate(22 1351 1362)"/>
<ellipse cx="1296" cy="1393" rx="2.5" ry="4" fill="none" stroke="#000" stroke-width="1.4" transform="rotate(22 1296 1393)"/>
<ellipse cx="1322" cy="1402" rx="2.5" ry="4" fill="none" stroke="#000" stroke-width="1.4" transform="rotate(22 1322 1402)"/>
<ellipse cx="1301" cy="1368" rx="2.5" ry="4" fill="none" stroke="#000" stroke-width="1.4" transform="rotate(22 1301 1368)"/>
<path d="M213.5,1309.2 C214.9,1307 218.6,1299.7 222,1296 C225.4,1292.3 221.2,1291 234.2,1287 C247.2,1283 272.5,1277.8 300,1272 C327.5,1266.2 379.2,1256.1 399.2,1252 C419.2,1247.9 402.9,1249.3 420,1247.6 C437.1,1245.9 487,1242.4 501.9,1241.9 C516.8,1241.4 501.2,1243.5 509.5,1244.8 C517.8,1246.1 541.2,1247.6 551.4,1249.5 C561.6,1251.4 565.2,1253.7 570.5,1256.2 C575.8,1258.8 576.2,1259.9 582.9,1264.8 C589.6,1269.7 602.7,1278.4 610.5,1285.7 C618.3,1293 623.1,1300.7 629.5,1308.6 C635.9,1316.5 643.5,1324.7 648.6,1333.3 C653.7,1341.9 658.1,1355.5 660,1360" fill="none" stroke="#000" stroke-width="2" stroke-linejoin="round" stroke-linecap="round"/>
<path d="M660,1360 C661.3,1364.1 665.9,1377.9 667.6,1384.8 C669.3,1391.7 668.2,1396.5 670,1401.4 C671.8,1406.3 674.3,1409.7 678.6,1414.3 C682.9,1418.9 690.7,1424.7 695.7,1429.3 C700.7,1433.9 705.6,1438.2 708.6,1442.1 C711.6,1446 712.5,1449 713.9,1452.9 C715.3,1456.8 716.6,1460.4 717.1,1465.7 C717.6,1471 716.2,1480.9 717.1,1485 C718,1489.1 721.6,1489.4 722.5,1490.3" fill="none" stroke="#000" stroke-width="2" stroke-linejoin="round" stroke-linecap="round"/>
<path d="M667,1384 C664.6,1386.2 656,1392.4 652.9,1397.1 C649.8,1401.8 648.6,1408 648.6,1412.1 C648.6,1416.2 650.8,1419.3 652.9,1421.8 C655,1424.3 651.6,1422.1 661.4,1427.1 C671.2,1432.1 703.4,1447.7 711.8,1451.8" fill="none" stroke="#000" stroke-width="2" stroke-linejoin="round" stroke-linecap="round"/>
<path d="M710.7,1473.2 C697.9,1481.4 649.7,1512.8 633.6,1522.5 C617.5,1532.2 618.9,1529.5 614.3,1531.1 C609.6,1532.7 610.4,1532.1 605.7,1532.1 C601.1,1532.1 589.6,1531.3 586.4,1531.1" fill="none" stroke="#000" stroke-width="1.8" stroke-linejoin="round" stroke-linecap="round"/>
<path d="M722.5,1490.3 C719.1,1493.7 715.1,1502.5 702.1,1510.7 C689.1,1518.9 657.1,1533.9 644.3,1539.6 C631.4,1545.3 630.4,1543.9 625,1545 C619.6,1546.1 618.2,1546.4 612.1,1546.1 C606,1545.8 598.2,1545.9 588.6,1542.9 C579,1539.9 562.5,1532.6 554.3,1527.9 C546.1,1523.2 544.7,1521.1 539.3,1515 C533.9,1508.9 526.8,1497.5 522.1,1491.4 C517.5,1485.3 516.8,1483.2 511.4,1478.6 C506,1474 497.9,1468.2 490,1463.6 C482.1,1458.9 473.9,1455 464.3,1450.7 C454.7,1446.4 442.8,1442.2 432.1,1437.9 C421.4,1433.6 411.6,1429.7 400,1425 C388.4,1420.3 374.9,1414.8 362.5,1410 C350.1,1405.2 334.2,1401 325.8,1396.2 C317.4,1391.4 315.4,1386.1 312,1381 C308.6,1375.9 308,1370.4 305.6,1365.8 C303.2,1361.2 301,1357.4 297.4,1353.5 C293.8,1349.6 288.3,1345.7 283.7,1342.6 C279.1,1339.5 281.7,1340.6 270,1335 C258.3,1329.4 222.9,1313.5 213.5,1309.2" fill="none" stroke="#000" stroke-width="2" stroke-linejoin="round" stroke-linecap="round"/>
<path d="M717.1,1487.1 C713.5,1490.7 708.2,1500.7 695.7,1508.6 C683.2,1516.5 653.9,1529.3 642.1,1534.3 C630.3,1539.3 629.6,1537.9 625,1538.6 C620.4,1539.3 620.4,1539.5 614.3,1538.6 C608.2,1537.7 599,1537 588.6,1533.2 C578.2,1529.5 560.3,1520.9 552.1,1516.1 C543.9,1511.3 543.9,1510.2 539.3,1504.3 C534.7,1498.4 527.5,1485.5 524.3,1480.7 C521.1,1475.9 525.4,1479.9 520,1475.4 C514.6,1470.9 506.4,1460.9 492.1,1453.9 C477.8,1446.9 449.7,1439.1 434.3,1433.6 C418.9,1428.1 411.9,1425.5 400,1420.7 C388.1,1415.9 374.8,1409.5 363,1404.5 C351.2,1399.5 336.7,1395.2 329,1390.5 C321.3,1385.8 320,1380.9 317,1376 C314,1371.1 313.5,1365.7 311,1361 C308.5,1356.3 306,1352.2 302,1348 C298,1343.8 292,1339.1 287,1336 C282,1332.9 284,1334.7 272,1329.5 C260,1324.3 224.5,1309.1 215,1305" fill="none" stroke="#000" stroke-width="1.6" stroke-linejoin="round" stroke-linecap="round"/>
<path d="M283.7,1326.1 L441.8,1293.3" fill="none" stroke="#000" stroke-width="1.7" stroke-linejoin="round" stroke-linecap="round"/>
<path d="M311,1378.5 C309.2,1378.5 302.7,1377.8 300,1378.5 C297.3,1379.2 295.6,1381.1 294.8,1383 C294,1384.9 294,1388.2 295,1390 C296,1391.8 297.6,1392.9 301,1393.5 C304.4,1394.1 313.1,1393.5 315.5,1393.5" fill="none" stroke="#000" stroke-width="1.7" stroke-linejoin="round" stroke-linecap="round"/>
<ellipse cx="301.8" cy="1385.8" rx="2.8" ry="2.8" fill="none" stroke="#000" stroke-width="1.5"/>
<text transform="translate(321 1357.5) rotate(-16.2)" font-family="Liberation Sans" font-weight="bold" font-style="italic" font-size="36.5" fill="#000" stroke="#000" stroke-width="4.6" stroke-linejoin="round" letter-spacing="1.2">Kawasaki</text>
<text transform="translate(321 1357.5) rotate(-16.2)" font-family="Liberation Sans" font-weight="bold" font-style="italic" font-size="36.5" fill="#fff" stroke="#fff" stroke-width="1.4" stroke-linejoin="round" letter-spacing="1.2">Kawasaki</text>
<path d="M360.2,1410 L582.9,1265.5" fill="none" stroke="#000" stroke-width="1.8" stroke-linejoin="round" stroke-linecap="round"/>
<path d="M436.4,1436.8 L615.2,1371.4 L491.4,1383.8 L625.7,1305.7" fill="none" stroke="#000" stroke-width="1.8" stroke-linejoin="round" stroke-linecap="round"/>
<path d="M213.5,1706 C214.1,1704.5 215.1,1699.8 217,1697 C218.9,1694.2 220.6,1692.3 225,1689.5 C229.4,1686.7 227.5,1684.5 243.3,1680.4 C259.1,1676.3 294.8,1670 320,1665 C345.2,1660 381.4,1653.4 394.6,1650.6 C407.8,1647.8 382,1649.4 399.2,1648.3 C416.4,1647.2 472.5,1643.7 497.7,1643.7 C522.9,1643.7 536.3,1644.5 550.4,1648.3 C564.5,1652.1 573.4,1660.5 582.5,1666.6 C591.6,1672.7 597.4,1678.1 605,1685 C612.6,1691.9 620.6,1697.2 628.3,1707.9 C636,1718.6 645.9,1737.9 651.2,1749.1 C656.5,1760.3 658.5,1770.7 660,1775" fill="none" stroke="#000" stroke-width="2" stroke-linejoin="round" stroke-linecap="round"/>
<path d="M660,1775 C660.1,1775.8 660.3,1776.3 660.5,1780 C660.7,1783.7 659.8,1791.8 661.4,1797.1 C663,1802.4 665.7,1807.4 670,1812.1 C674.3,1816.8 682.1,1820.3 687.1,1825 C692.1,1829.7 696.8,1835.7 700,1840 C703.2,1844.3 705,1846.4 706.4,1850.7 C707.8,1855 708.2,1860.7 708.6,1865.7 C709,1870.7 707.7,1877.3 708.6,1880.7 C709.5,1884.1 713,1885.2 713.9,1886.1" fill="none" stroke="#000" stroke-width="2" stroke-linejoin="round" stroke-linecap="round"/>
<path d="M660.5,1781 C658.1,1783 649.5,1788.8 646.4,1792.9 C643.3,1797 642.1,1801.4 642.1,1805.7 C642.1,1810 644.6,1815.7 646.4,1818.6 C648.2,1821.5 643.2,1818.3 652.9,1822.9 C662.5,1827.5 695.7,1842.5 704.3,1846.4" fill="none" stroke="#000" stroke-width="2" stroke-linejoin="round" stroke-linecap="round"/>
<path d="M703.2,1868.9 C690.2,1877.3 641.2,1909.7 625,1919.3 C608.8,1928.9 612.9,1925.7 605.7,1926.8 C598.6,1927.9 586,1925.9 582.1,1925.7" fill="none" stroke="#000" stroke-width="1.8" stroke-linejoin="round" stroke-linecap="round"/>
<path d="M713.9,1886.1 C710.9,1889.5 708.7,1898.4 695.7,1906.4 C682.7,1914.4 648.2,1928.8 635.7,1934.3 C623.2,1939.8 626.8,1938.7 620.7,1939.6 C614.6,1940.5 606.8,1940.5 599.3,1939.6 C591.8,1938.7 585.7,1938 575.7,1934.3 C565.7,1930.5 548.6,1923.9 539.3,1917.1 C530,1910.3 527.1,1901.4 520,1893.6 C512.9,1885.8 504.6,1876.8 496.4,1870 C488.2,1863.2 481.4,1858.6 470.7,1852.9 C460,1847.2 443.8,1841.2 432,1836 C420.2,1830.8 411.6,1826.7 400,1821.8 C388.4,1816.9 374.9,1811.6 362.5,1806.8 C350.1,1802 334.2,1797.8 325.8,1793 C317.4,1788.2 315.4,1782.9 312,1777.8 C308.6,1772.7 308,1767.2 305.6,1762.6 C303.2,1758 301,1754.2 297.4,1750.3 C293.8,1746.4 288.3,1742.5 283.7,1739.4 C279.1,1736.3 281.7,1737.4 270,1731.8 C258.3,1726.2 222.9,1710.3 213.5,1706" fill="none" stroke="#000" stroke-width="2" stroke-linejoin="round" stroke-linecap="round"/>
<path d="M709,1882 C706.2,1885.2 704.5,1893.2 692,1901 C679.5,1908.8 645.7,1923.8 634,1929 C622.3,1934.2 626.7,1931.7 622,1932 C617.3,1932.3 612.4,1931.8 605.7,1931 C599.1,1930.2 591.4,1930.9 582.1,1927.5 C572.8,1924.1 557.9,1915.3 550,1910.7 C542.1,1906.1 540.7,1906.4 535,1900 C529.3,1893.6 523.9,1880.5 515.7,1872.1 C507.5,1863.7 498.3,1856.3 485.7,1849.6 C473.1,1842.9 454.3,1837.3 440,1832 C425.7,1826.7 412.8,1822.6 400,1817.5 C387.2,1812.4 374.8,1806.3 363,1801.3 C351.2,1796.3 336.7,1792 329,1787.3 C321.3,1782.5 320,1777.7 317,1772.8 C314,1767.9 313.5,1762.5 311,1757.8 C308.5,1753.1 306,1749 302,1744.8 C298,1740.6 292,1735.9 287,1732.8 C282,1729.7 284,1731.5 272,1726.3 C260,1721.1 224.5,1705.9 215,1701.8" fill="none" stroke="#000" stroke-width="1.6" stroke-linejoin="round" stroke-linecap="round"/>
<path d="M283.7,1722.9 L441.8,1690.1" fill="none" stroke="#000" stroke-width="1.7" stroke-linejoin="round" stroke-linecap="round"/>
<path d="M311,1775.3 C309.2,1775.3 302.7,1774.5 300,1775.3 C297.3,1776 295.6,1777.9 294.8,1779.8 C294,1781.7 294,1785 295,1786.8 C296,1788.5 297.6,1789.7 301,1790.3 C304.4,1790.9 313.1,1790.3 315.5,1790.3" fill="none" stroke="#000" stroke-width="1.7" stroke-linejoin="round" stroke-linecap="round"/>
<ellipse cx="301.8" cy="1782.6" rx="2.8" ry="2.8" fill="none" stroke="#000" stroke-width="1.5"/>
<text transform="translate(321 1754.3) rotate(-16.2)" font-family="Liberation Sans" font-weight="bold" font-style="italic" font-size="36.5" fill="#000" stroke="#000" stroke-width="4.6" stroke-linejoin="round" letter-spacing="1.2">Kawasaki</text>
<text transform="translate(321 1754.3) rotate(-16.2)" font-family="Liberation Sans" font-weight="bold" font-style="italic" font-size="36.5" fill="#fff" stroke="#fff" stroke-width="1.4" stroke-linejoin="round" letter-spacing="1.2">Kawasaki</text>
<g transform="translate(1157 1633.5) rotate(27)"><rect x="-34" y="-9.5" width="68" height="19" rx="9.5" fill="none" stroke="#000" stroke-width="2.4"/><rect x="-29" y="-5" width="58" height="10" rx="5" fill="none" stroke="#000" stroke-width="1.8"/><line x1="-12" y1="-5" x2="-12" y2="5" stroke="#000" stroke-width="1.8"/><line x1="15" y1="-5" x2="15" y2="5" stroke="#000" stroke-width="1.8"/></g>
<ellipse cx="1148.5" cy="1793.5" rx="13" ry="19.5" fill="none" stroke="#000" stroke-width="2" transform="rotate(-15 1148.5 1793.5)"/>
<ellipse cx="1148.5" cy="1793.5" rx="10.5" ry="17" fill="none" stroke="#000" stroke-width="1.4" transform="rotate(-15 1148.5 1793.5)"/>
<ellipse cx="1189" cy="1770.5" rx="16" ry="20" fill="none" stroke="#000" stroke-width="2" transform="rotate(15 1189 1770.5)"/>
<ellipse cx="1184" cy="1762" rx="3.5" ry="4" fill="none" stroke="#000" stroke-width="1.6"/>
<ellipse cx="1193" cy="1767" rx="3.5" ry="4" fill="none" stroke="#000" stroke-width="1.6"/>
<path d="M1182,1775 C1182.8,1776 1184.8,1780.2 1187,1781 C1189.2,1781.8 1193.7,1780.2 1195,1780" fill="none" stroke="#000" stroke-width="1.6" stroke-linejoin="round" stroke-linecap="round"/>
<path d="M1183,1778 C1184,1779 1186.8,1783.2 1189,1784 C1191.2,1784.8 1194.8,1783.2 1196,1783" fill="none" stroke="#000" stroke-width="1.3" stroke-linejoin="round" stroke-linecap="round"/>
<path d="M1069.2,1828.8 L1069.2,1806.2 Q1069.2,1803.8 1071.4,1802.6 L1074.4,1801.1 Q1076.7,1800 1078.9,1801 L1082,1802.4 Q1085,1803.8 1087.6,1805.8 L1094.9,1811.3 Q1097.5,1813.3 1099.9,1815.6 L1106.9,1822.4 Q1108.8,1824.2 1108.8,1826.7 L1108.8,1848.8 Q1108.8,1850.4 1107.2,1850.9 L1104.1,1851.8 Q1101.7,1852.5 1099.3,1851.6 L1093.6,1849.3 Q1091.2,1848.3 1089.3,1846.8 L1080.7,1839.9 Q1078.8,1838.3 1076.5,1837.2 L1073.8,1835.8" fill="none" stroke="#000" stroke-width="2.2" stroke-linejoin="round" stroke-linecap="round"/>
<path d="M1076.7,1800 L1079.2,1799.7 Q1080.8,1799.6 1082.5,1799.6 L1092.9,1799.9 Q1095.4,1800 1097.6,1801.2 L1105,1805.1 Q1107.9,1806.7 1110.3,1809 L1116,1814.7 Q1118.3,1817.1 1118.6,1820.4 L1119.4,1829.2 Q1119.6,1831.7 1117.9,1833.6 L1114.2,1837.9" fill="none" stroke="#000" stroke-width="2.4" stroke-linejoin="round" stroke-linecap="round"/>
<path d="M1096.7,1803.8 L1112.1,1815.8" fill="none" stroke="#000" stroke-width="3.2" stroke-linejoin="round" stroke-linecap="round"/>
<path d="M1114.2,1825.4 L1114.2,1846.7 Q1114.2,1848.3 1112.6,1849 L1109.2,1850.4" fill="none" stroke="#000" stroke-width="2.2" stroke-linejoin="round" stroke-linecap="round"/>
<path d="M1114.2,1826.7 L1118.3,1824.2" fill="none" stroke="#000" stroke-width="2" stroke-linejoin="round" stroke-linecap="round"/>
<ellipse cx="1071.5" cy="1829.6" rx="3.6" ry="4.4" fill="none" stroke="#000" stroke-width="2.6"/>
<ellipse cx="1102.1" cy="1827.5" rx="3.6" ry="4.4" fill="none" stroke="#000" stroke-width="2.6"/>
<g transform="translate(1086.2 1829.6) rotate(-28)"><rect x="-8" y="-4.5" width="16" height="9" rx="4" fill="#fff" stroke="#000" stroke-width="2.4"/><line x1="-3" y1="-4" x2="-3" y2="4" stroke="#000" stroke-width="1.6"/></g>
<ellipse cx="1274.5" cy="1546" rx="6" ry="4" fill="none" stroke="#000" stroke-width="1.8"/>
<path d="M1268.5,1547 C1268.1,1550.8 1267.8,1561.2 1266,1570 C1264.2,1578.8 1260.8,1590 1258,1600 C1255.2,1610 1251,1620 1249,1630 C1247,1640 1246.5,1649.2 1246,1660 C1245.5,1670.8 1246,1689.2 1246,1695" fill="none" stroke="#000" stroke-width="2" stroke-linejoin="round" stroke-linecap="round"/>
<path d="M1280.5,1547 C1280.2,1551.7 1280.8,1565.3 1279,1575 C1277.2,1584.7 1273.2,1595.5 1270,1605 C1266.8,1614.5 1262.2,1622.8 1260,1632 C1257.8,1641.2 1257.5,1649.8 1257,1660 C1256.5,1670.2 1257,1687.5 1257,1693" fill="none" stroke="#000" stroke-width="2" stroke-linejoin="round" stroke-linecap="round"/>
<path d="M1263,1573 L1276,1578" fill="none" stroke="#000" stroke-width="1.5" stroke-linejoin="round" stroke-linecap="round"/>
<path d="M1262,1579 L1275,1584" fill="none" stroke="#000" stroke-width="1.5" stroke-linejoin="round" stroke-linecap="round"/>
<path d="M1234,1650 L1234,1693" fill="none" stroke="#000" stroke-width="2" stroke-linejoin="round" stroke-linecap="round"/>
<path d="M1244,1650 L1244,1693" fill="none" stroke="#000" stroke-width="2" stroke-linejoin="round" stroke-linecap="round"/>
<ellipse cx="1239" cy="1650" rx="5" ry="2.2" fill="none" stroke="#000" stroke-width="1.5"/>
<path d="M1234,1690 C1234.8,1690.4 1237.3,1692.5 1239,1692.5 C1240.7,1692.5 1243.2,1690.4 1244,1690" fill="none" stroke="#000" stroke-width="1.6" stroke-linejoin="round" stroke-linecap="round"/>
<path d="M1225,1672.5 L1268,1697" fill="none" stroke="#000" stroke-width="2.2" stroke-linejoin="round" stroke-linecap="round"/>
<path d="M1212,1690 L1252,1715" fill="none" stroke="#000" stroke-width="2.4" stroke-linejoin="round" stroke-linecap="round"/>
<ellipse cx="1223.2" cy="1683.2" rx="12.5" ry="10" fill="none" stroke="#000" stroke-width="4.5"/>
<ellipse cx="1224.5" cy="1683.5" rx="4.5" ry="2.6" fill="none" stroke="#000" stroke-width="2"/>
<ellipse cx="1265.5" cy="1707.6" rx="14" ry="10.5" fill="none" stroke="#000" stroke-width="4.5"/>
<ellipse cx="1262.5" cy="1705.5" rx="5" ry="2.8" fill="none" stroke="#000" stroke-width="2"/>
<path d="M1232,1706 L1233,1725" fill="none" stroke="#000" stroke-width="2.2" stroke-linejoin="round" stroke-linecap="round"/>
<path d="M1237,1710 L1237,1725" fill="none" stroke="#000" stroke-width="1.8" stroke-linejoin="round" stroke-linecap="round"/>
<path d="M1256,1718 L1257,1746" fill="none" stroke="#000" stroke-width="2.2" stroke-linejoin="round" stroke-linecap="round"/>
<path d="M1263,1718 L1264,1738 L1278,1740" fill="none" stroke="#000" stroke-width="2.2" stroke-linejoin="round" stroke-linecap="round"/>
<ellipse cx="1234.5" cy="1746" rx="21" ry="26" fill="none" stroke="#000" stroke-width="2.4" transform="rotate(-28 1234.5 1746)"/>
<ellipse cx="1237" cy="1745" rx="13.5" ry="19" fill="none" stroke="#000" stroke-width="4.2" transform="rotate(-28 1237 1745)"/>
<path d="M1229,1735 L1247,1751" fill="none" stroke="#000" stroke-width="2.2" stroke-linejoin="round" stroke-linecap="round"/>
<path d="M1233,1732 L1251,1748" fill="none" stroke="#000" stroke-width="1.6" stroke-linejoin="round" stroke-linecap="round"/>
<path d="M1226,1742 L1243,1757" fill="none" stroke="#000" stroke-width="1.6" stroke-linejoin="round" stroke-linecap="round"/>
<path d="M1260,1748 L1247,1770" fill="none" stroke="#000" stroke-width="2.2" stroke-linejoin="round" stroke-linecap="round"/>
<path d="M1273,1756 L1261,1778" fill="none" stroke="#000" stroke-width="2.2" stroke-linejoin="round" stroke-linecap="round"/>
<ellipse cx="1252.5" cy="1775.5" rx="7.5" ry="4.8" fill="none" stroke="#000" stroke-width="2.2" transform="rotate(-30 1252.5 1775.5)"/>
<path d="M1265,1750 L1281,1757" fill="none" stroke="#000" stroke-width="2" stroke-linejoin="round" stroke-linecap="round"/>
<ellipse cx="1282" cy="1748" rx="6.2" ry="9.5" fill="none" stroke="#000" stroke-width="2.2"/>
<path d="M1276,1740 L1286,1757" fill="none" stroke="#000" stroke-width="1.3" stroke-linejoin="round" stroke-linecap="round"/>
<ellipse cx="1354" cy="1841.5" rx="14" ry="7" fill="none" stroke="#000" stroke-width="2"/>
<ellipse cx="1354" cy="1841.5" rx="4" ry="2.2" fill="none" stroke="#000" stroke-width="1.5"/>
<path d="M1340,1842 C1340.3,1843 1339.7,1846.7 1342,1848 C1344.3,1849.3 1350,1850 1354,1850 C1358,1850 1363.7,1849.3 1366,1848 C1368.3,1846.7 1367.7,1843 1368,1842" fill="none" stroke="#000" stroke-width="1.6" stroke-linejoin="round" stroke-linecap="round"/>
<rect x="1349.5" y="1868" width="9" height="18" rx="3" fill="none" stroke="#000" stroke-width="1.8"/>
<line x1="1350" y1="1872" x2="1358" y2="1871" stroke="#000" stroke-width="1.2"/>
<line x1="1350" y1="1875" x2="1358" y2="1874" stroke="#000" stroke-width="1.2"/>
<line x1="1350" y1="1878" x2="1358" y2="1877" stroke="#000" stroke-width="1.2"/>
<line x1="1350" y1="1881" x2="1358" y2="1880" stroke="#000" stroke-width="1.2"/>
<line x1="1350" y1="1884" x2="1358" y2="1883" stroke="#000" stroke-width="1.2"/>
<ellipse cx="1354" cy="1890" rx="10.5" ry="4.5" fill="none" stroke="#000" stroke-width="1.8"/>
<path d="M1345,1891 L1346,1902 L1350,1905 L1358,1905 L1362,1902 L1363,1891" fill="none" stroke="#000" stroke-width="1.8" stroke-linejoin="round" stroke-linecap="round"/>
<line x1="1350" y1="1894" x2="1350" y2="1904" stroke="#000" stroke-width="1.2"/>
<line x1="1358" y1="1894" x2="1358" y2="1904" stroke="#000" stroke-width="1.2"/>
<path d="M953.2,1895.4 L984.1,1877.2 Q987.1,1875.4 990.6,1876.2 L991.7,1876.5 Q996.1,1877.5 997.7,1881.6 L998.3,1883.1 Q999.6,1886.4 999.2,1888.2 L998.8,1890" fill="none" stroke="#000" stroke-width="2" stroke-linejoin="round" stroke-linecap="round"/>
<path d="M963,1913.2 L998.8,1890" fill="none" stroke="#000" stroke-width="2" stroke-linejoin="round" stroke-linecap="round"/>
<path d="M930,1885.5 C933,1886.9 942.9,1889.9 947.9,1893.6 C952.8,1897.3 956.9,1902.5 959.5,1907.9 C962,1913.2 963.2,1920.7 963,1925.7 C962.9,1930.8 961.4,1935.2 958.6,1938.2 C955.7,1941.2 950.5,1943 946.1,1943.6 C941.6,1944.2 936,1944.2 931.8,1941.8 C927.6,1939.4 923.6,1935.2 921.1,1929.3 C918.5,1923.3 916.9,1912.3 916.6,1906.1 C916.3,1899.8 917.1,1895.2 919.3,1891.8 C921.5,1888.4 928.2,1886.6 930,1885.5" fill="none" stroke="#000" stroke-width="2" stroke-linejoin="round" stroke-linecap="round"/>
<path d="M937.1,1887.3 C939.5,1889 947.7,1893.1 951.4,1897.1 C955.1,1901.2 957.7,1906.7 959.5,1911.4 C961.2,1916.2 962.1,1921.5 962.1,1925.7 C962.1,1929.9 959.9,1934.6 959.5,1936.4" fill="none" stroke="#000" stroke-width="3" stroke-linejoin="round" stroke-linecap="round"/>
<path d="M922.9,1897.1 L924.1,1894 Q924.6,1892.7 926,1892.3 L935.8,1889.5 Q937.1,1889.1 938.2,1890.1 L944.1,1895.3 Q945.2,1896.2 945.2,1897.7 L944.3,1940 Q944.3,1941.8 942.5,1941.9 L935,1942.6 Q933.6,1942.7 932.3,1942 L925.9,1938.9 Q924.6,1938.2 924.6,1936.8 L922.9,1897.1" fill="none" stroke="#000" stroke-width="2" stroke-linejoin="round" stroke-linecap="round"/>
<path d="M924.6,1897.1 L935.4,1898.9 L945.2,1896.2" fill="none" stroke="#000" stroke-width="1.6" stroke-linejoin="round" stroke-linecap="round"/>
<path d="M935.4,1898.9 L935.7,1941.8" fill="none" stroke="#000" stroke-width="1.5" stroke-linejoin="round" stroke-linecap="round"/>
<path d="M941.6,1897.1 C942.1,1900.1 944.3,1910.2 944.3,1915 C944.3,1919.8 941.6,1921.2 941.6,1925.7 C941.6,1930.2 943.8,1939.1 944.3,1941.8" fill="none" stroke="#000" stroke-width="1.4" stroke-linejoin="round" stroke-linecap="round"/>
<ellipse cx="927.9" cy="1922.1" rx="3.6" ry="4" fill="none" stroke="#000" stroke-width="1.6"/>
<ellipse cx="852" cy="1963" rx="7.5" ry="7.5" fill="none" stroke="#000" stroke-width="1.8"/>
<line x1="848" y1="1959" x2="856" y2="1967" stroke="#000" stroke-width="1.3"/>
<line x1="848" y1="1967" x2="856" y2="1959" stroke="#000" stroke-width="1.3"/>
<path d="M857,1956 L874,1948 L877,1953 L860,1965" fill="none" stroke="#000" stroke-width="1.6" stroke-linejoin="round" stroke-linecap="round"/>
<line x1="862" y1="1954" x2="865" y2="1961" stroke="#000" stroke-width="1.1"/>
<line x1="865.6" y1="1952.4" x2="868.6" y2="1959.4" stroke="#000" stroke-width="1.1"/>
<line x1="869.2" y1="1950.8" x2="872.2" y2="1957.8" stroke="#000" stroke-width="1.1"/>
<line x1="872.8" y1="1949.2" x2="875.8" y2="1956.2" stroke="#000" stroke-width="1.1"/>
<rect x="1120" y="271.3" width="218.8" height="86.2" fill="none" stroke="#000" stroke-width="2"/>
<rect x="181.5" y="1201.5" width="572.9" height="371.2" fill="none" stroke="#000" stroke-width="2"/>
<rect x="181.5" y="1598.3" width="572.9" height="372.2" fill="none" stroke="#000" stroke-width="2"/>
<path d="M1041.4,1837.9 L1041.4,1512.3 L1308.7,1512.3 L1308.7,1748.9" fill="none" stroke="#000" stroke-width="2" stroke-linejoin="round" stroke-linecap="round"/>
<path d="M1041.4,1867.9 L1041.4,1891.8 L1308.7,1891.8 L1308.7,1777.2" fill="none" stroke="#000" stroke-width="2" stroke-linejoin="round" stroke-linecap="round"/>
<line x1="519.3" y1="318" x2="570" y2="318" stroke="#000" stroke-width="2"/>
<line x1="496.4" y1="332.9" x2="455.7" y2="411.4" stroke="#000" stroke-width="2"/>
<line x1="368" y1="443.6" x2="417.9" y2="443.6" stroke="#000" stroke-width="2"/>
<line x1="516.4" y1="454.3" x2="516.4" y2="508.6" stroke="#000" stroke-width="2"/>
<line x1="447.7" y1="522.2" x2="498.9" y2="522.2" stroke="#000" stroke-width="2"/>
<line x1="447.7" y1="572.1" x2="498.9" y2="572.1" stroke="#000" stroke-width="2"/>
<line x1="455.4" y1="627.9" x2="507.8" y2="627.9" stroke="#000" stroke-width="2"/>
<line x1="246" y1="522.2" x2="246" y2="573.4" stroke="#000" stroke-width="2"/>
<line x1="289.5" y1="740.5" x2="339.5" y2="740.5" stroke="#000" stroke-width="2"/>
<line x1="553.5" y1="703.8" x2="604.8" y2="703.8" stroke="#000" stroke-width="2"/>
<line x1="284.9" y1="1038" x2="333.5" y2="1038" stroke="#000" stroke-width="2"/>
<line x1="566.9" y1="991" x2="566.9" y2="1040.8" stroke="#000" stroke-width="2"/>
<line x1="1188.8" y1="315.5" x2="1227.5" y2="315.5" stroke="#000" stroke-width="2"/>
<line x1="1229.5" y1="357.5" x2="1229.5" y2="397.5" stroke="#000" stroke-width="2"/>
<line x1="1247.5" y1="456.8" x2="1297.5" y2="456.8" stroke="#000" stroke-width="2"/>
<line x1="1365" y1="425.8" x2="1416.3" y2="425.8" stroke="#000" stroke-width="2"/>
<line x1="1355.5" y1="465" x2="1355.5" y2="511.3" stroke="#000" stroke-width="2"/>
<line x1="1379" y1="539.5" x2="1429.7" y2="539.5" stroke="#000" stroke-width="2"/>
<line x1="1375.8" y1="649.2" x2="1426.4" y2="649.2" stroke="#000" stroke-width="2"/>
<line x1="1238.1" y1="734.4" x2="1287.7" y2="734.4" stroke="#000" stroke-width="2"/>
<line x1="942.5" y1="933.6" x2="992.9" y2="933.6" stroke="#000" stroke-width="2"/>
<line x1="937.1" y1="950.7" x2="937.1" y2="1027.8" stroke="#000" stroke-width="2"/>
<path d="M1101.9,754.3 L1192.6,864.8 L1192.6,946.3" fill="none" stroke="#000" stroke-width="2" stroke-linejoin="round" stroke-linecap="round"/>
<line x1="1206" y1="947.8" x2="1258.1" y2="947.8" stroke="#000" stroke-width="2"/>
<line x1="1204.5" y1="1025.2" x2="1255.1" y2="1025.2" stroke="#000" stroke-width="2"/>
<line x1="926.4" y1="1070.7" x2="975.7" y2="1070.7" stroke="#000" stroke-width="2"/>
<line x1="797.9" y1="1139.3" x2="810.7" y2="1177.9" stroke="#000" stroke-width="2"/>
<line x1="837.5" y1="1189.6" x2="887.9" y2="1189.6" stroke="#000" stroke-width="2"/>
<line x1="851.4" y1="1231.4" x2="903.9" y2="1231.4" stroke="#000" stroke-width="2"/>
<line x1="860" y1="1285" x2="913.6" y2="1285" stroke="#000" stroke-width="2"/>
<line x1="1074.2" y1="1218.7" x2="1074.2" y2="1269.3" stroke="#000" stroke-width="2"/>
<line x1="1094.4" y1="1296" x2="1127.1" y2="1313.9" stroke="#000" stroke-width="2"/>
<line x1="1273" y1="1251.4" x2="1322.1" y2="1251.4" stroke="#000" stroke-width="2"/>
<line x1="1362.3" y1="1340.7" x2="1411.4" y2="1340.7" stroke="#000" stroke-width="2"/>
<line x1="266.2" y1="1249.6" x2="266.2" y2="1297.7" stroke="#000" stroke-width="2"/>
<circle cx="266.2" cy="1297.7" r="2.5" fill="#000"/>
<line x1="586.5" y1="1289.8" x2="649.5" y2="1289.8" stroke="#000" stroke-width="2"/>
<ellipse cx="583" cy="1290.2" rx="3.3" ry="3.3" fill="none" stroke="#000" stroke-width="1.8"/>
<line x1="461" y1="1483.8" x2="552.7" y2="1483.8" stroke="#000" stroke-width="2"/>
<circle cx="552.7" cy="1483.8" r="2.5" fill="#000"/>
<line x1="756.6" y1="1388" x2="802.5" y2="1388" stroke="#000" stroke-width="2"/>
<line x1="266.2" y1="1647.8" x2="266.2" y2="1695.5" stroke="#000" stroke-width="2"/>
<circle cx="266.2" cy="1695.5" r="2.5" fill="#000"/>
<line x1="756.6" y1="1783" x2="802.5" y2="1783" stroke="#000" stroke-width="2"/>
<line x1="1162.3" y1="1576.3" x2="1162.3" y2="1626.9" stroke="#000" stroke-width="2"/>
<line x1="1142.6" y1="1726.6" x2="1142.6" y2="1774.2" stroke="#000" stroke-width="2"/>
<line x1="1190.2" y1="1789.1" x2="1190.2" y2="1839.7" stroke="#000" stroke-width="2"/>
<line x1="1310.2" y1="1646.8" x2="1359.3" y2="1646.8" stroke="#000" stroke-width="2"/>
<path d="M1287.9,1751.9 L1354.8,1789.1 L1354.8,1835.2" fill="none" stroke="#000" stroke-width="2" stroke-linejoin="round" stroke-linecap="round"/>
<line x1="1366.7" y1="1841.2" x2="1417.3" y2="1841.2" stroke="#000" stroke-width="2"/>
<line x1="1363.6" y1="1893.6" x2="1415" y2="1893.6" stroke="#000" stroke-width="2"/>
<line x1="936.3" y1="1848.6" x2="936.3" y2="1887.1" stroke="#000" stroke-width="2"/>
<line x1="1001.4" y1="1876.4" x2="1074.3" y2="1833.6" stroke="#000" stroke-width="2"/>
<line x1="877.1" y1="1949.3" x2="924.3" y2="1923.6" stroke="#000" stroke-width="2"/>
<line x1="849.3" y1="1906.4" x2="849.3" y2="1955.7" stroke="#000" stroke-width="2"/>
<text transform="translate(1437.3 281.8) scale(0.7 1)" text-anchor="middle" font-family="Liberation Sans" font-size="18.5" font-weight="normal" stroke="#000" stroke-width="0.3">F</text>
<text transform="translate(1450.2 281.8) scale(0.8 1)" text-anchor="middle" font-family="Liberation Sans" font-size="18.5" font-weight="normal" stroke="#000" stroke-width="0.3">2</text>
<text transform="translate(1463.1 281.8) scale(0.8 1)" text-anchor="middle" font-family="Liberation Sans" font-size="18.5" font-weight="normal" stroke="#000" stroke-width="0.3">4</text>
<path d="M1476.6,281.3 L1476.6,268.9 M1477.3,269.2 L1473.3,271.6" stroke="#000" stroke-width="1.7" fill="none" stroke-linecap="butt"/>
<text transform="translate(1488.9 281.8) scale(0.8 1)" text-anchor="middle" font-family="Liberation Sans" font-size="18.5" font-weight="normal" stroke="#000" stroke-width="0.3">0</text>
<text transform="translate(1501.8 281.8) scale(0.7 1)" text-anchor="middle" font-family="Liberation Sans" font-size="18.5" font-weight="normal" stroke="#000" stroke-width="0.3">A</text>
<path d="M578.9,325.7 L578.9,306.6 M579.9,306.9 L573.8,310.9" stroke="#000" stroke-width="2.6" fill="none" stroke-linecap="butt"/>
<text transform="translate(595.1 326.2) scale(0.7 1)" text-anchor="middle" font-family="Liberation Sans" font-size="28.2" font-weight="normal" stroke="#000" stroke-width="0.6">3</text>
<text transform="translate(612.2 326.2) scale(0.7 1)" text-anchor="middle" font-family="Liberation Sans" font-size="28.2" font-weight="normal" stroke="#000" stroke-width="0.6">0</text>
<text transform="translate(629.2 326.2) scale(0.6 1)" text-anchor="middle" font-family="Liberation Sans" font-size="28.2" font-weight="normal" stroke="#000" stroke-width="0.6">A</text>
<text transform="translate(290.8 452.7) scale(0.7 1)" text-anchor="middle" font-family="Liberation Sans" font-size="28.2" font-weight="normal" stroke="#000" stroke-width="0.6">3</text>
<text transform="translate(307.9 452.7) scale(0.7 1)" text-anchor="middle" font-family="Liberation Sans" font-size="28.2" font-weight="normal" stroke="#000" stroke-width="0.6">2</text>
<text transform="translate(324.9 452.7) scale(0.7 1)" text-anchor="middle" font-family="Liberation Sans" font-size="28.2" font-weight="normal" stroke="#000" stroke-width="0.6">0</text>
<text transform="translate(342.1 452.7) scale(0.7 1)" text-anchor="middle" font-family="Liberation Sans" font-size="28.2" font-weight="normal" stroke="#000" stroke-width="0.6">5</text>
<text transform="translate(359.1 452.7) scale(0.7 1)" text-anchor="middle" font-family="Liberation Sans" font-size="28.2" font-weight="normal" stroke="#000" stroke-width="0.6">2</text>
<text transform="translate(368.7 531.2) scale(0.7 1)" text-anchor="middle" font-family="Liberation Sans" font-size="28.2" font-weight="normal" stroke="#000" stroke-width="0.6">9</text>
<text transform="translate(385.8 531.2) scale(0.7 1)" text-anchor="middle" font-family="Liberation Sans" font-size="28.2" font-weight="normal" stroke="#000" stroke-width="0.6">2</text>
<path d="M403.8,530.7 L403.8,511.6 M404.8,511.9 L398.7,515.9" stroke="#000" stroke-width="2.6" fill="none" stroke-linecap="butt"/>
<text transform="translate(420 531.2) scale(0.7 1)" text-anchor="middle" font-family="Liberation Sans" font-size="28.2" font-weight="normal" stroke="#000" stroke-width="0.6">6</text>
<text transform="translate(437.1 531.2) scale(0.7 1)" text-anchor="middle" font-family="Liberation Sans" font-size="28.2" font-weight="normal" stroke="#000" stroke-width="0.6">0</text>
<text transform="translate(368.6 580.3) scale(0.7 1)" text-anchor="middle" font-family="Liberation Sans" font-size="28.2" font-weight="normal" stroke="#000" stroke-width="0.6">9</text>
<text transform="translate(385.7 580.3) scale(0.7 1)" text-anchor="middle" font-family="Liberation Sans" font-size="28.2" font-weight="normal" stroke="#000" stroke-width="0.6">2</text>
<text transform="translate(402.8 580.3) scale(0.7 1)" text-anchor="middle" font-family="Liberation Sans" font-size="28.2" font-weight="normal" stroke="#000" stroke-width="0.6">0</text>
<text transform="translate(419.9 580.3) scale(0.7 1)" text-anchor="middle" font-family="Liberation Sans" font-size="28.2" font-weight="normal" stroke="#000" stroke-width="0.6">2</text>
<text transform="translate(437 580.3) scale(0.7 1)" text-anchor="middle" font-family="Liberation Sans" font-size="28.2" font-weight="normal" stroke="#000" stroke-width="0.6">7</text>
<path d="M412.9,636.1 L412.9,617 M413.9,617.3 L407.9,621.3" stroke="#000" stroke-width="2.6" fill="none" stroke-linecap="butt"/>
<text transform="translate(429.2 636.6) scale(0.7 1)" text-anchor="middle" font-family="Liberation Sans" font-size="28.2" font-weight="normal" stroke="#000" stroke-width="0.6">3</text>
<text transform="translate(446.2 636.6) scale(0.7 1)" text-anchor="middle" font-family="Liberation Sans" font-size="28.2" font-weight="normal" stroke="#000" stroke-width="0.6">0</text>
<text transform="translate(209.9 516.3) scale(0.7 1)" text-anchor="middle" font-family="Liberation Sans" font-size="28.2" font-weight="normal" stroke="#000" stroke-width="0.6">5</text>
<text transform="translate(227 516.3) scale(0.7 1)" text-anchor="middle" font-family="Liberation Sans" font-size="28.2" font-weight="normal" stroke="#000" stroke-width="0.6">3</text>
<text transform="translate(244.2 516.3) scale(0.7 1)" text-anchor="middle" font-family="Liberation Sans" font-size="28.2" font-weight="normal" stroke="#000" stroke-width="0.6">0</text>
<text transform="translate(261.2 516.3) scale(0.7 1)" text-anchor="middle" font-family="Liberation Sans" font-size="28.2" font-weight="normal" stroke="#000" stroke-width="0.6">4</text>
<text transform="translate(278.4 516.3) scale(0.7 1)" text-anchor="middle" font-family="Liberation Sans" font-size="28.2" font-weight="normal" stroke="#000" stroke-width="0.6">4</text>
<text transform="translate(193.2 749) scale(0.7 1)" text-anchor="middle" font-family="Liberation Sans" font-size="28.2" font-weight="normal" stroke="#000" stroke-width="0.6">9</text>
<text transform="translate(210.3 749) scale(0.7 1)" text-anchor="middle" font-family="Liberation Sans" font-size="28.2" font-weight="normal" stroke="#000" stroke-width="0.6">2</text>
<path d="M228.4,748.5 L228.4,729.4 M229.4,729.7 L223.3,733.7" stroke="#000" stroke-width="2.6" fill="none" stroke-linecap="butt"/>
<text transform="translate(244.6 749) scale(0.7 1)" text-anchor="middle" font-family="Liberation Sans" font-size="28.2" font-weight="normal" stroke="#000" stroke-width="0.6">6</text>
<text transform="translate(261.7 749) scale(0.7 1)" text-anchor="middle" font-family="Liberation Sans" font-size="28.2" font-weight="normal" stroke="#000" stroke-width="0.6">0</text>
<text transform="translate(278.8 749) scale(0.6 1)" text-anchor="middle" font-family="Liberation Sans" font-size="28.2" font-weight="normal" stroke="#000" stroke-width="0.6">A</text>
<text transform="translate(458.2 712.1) scale(0.7 1)" text-anchor="middle" font-family="Liberation Sans" font-size="28.2" font-weight="normal" stroke="#000" stroke-width="0.6">3</text>
<text transform="translate(475.3 712.1) scale(0.7 1)" text-anchor="middle" font-family="Liberation Sans" font-size="28.2" font-weight="normal" stroke="#000" stroke-width="0.6">9</text>
<path d="M493.2,711.6 L493.2,692.5 M494.2,692.8 L488.2,696.8" stroke="#000" stroke-width="2.6" fill="none" stroke-linecap="butt"/>
<text transform="translate(509.5 712.1) scale(0.7 1)" text-anchor="middle" font-family="Liberation Sans" font-size="28.2" font-weight="normal" stroke="#000" stroke-width="0.6">5</text>
<text transform="translate(526.6 712.1) scale(0.7 1)" text-anchor="middle" font-family="Liberation Sans" font-size="28.2" font-weight="normal" stroke="#000" stroke-width="0.6">6</text>
<text transform="translate(543.6 712.1) scale(0.6 1)" text-anchor="middle" font-family="Liberation Sans" font-size="28.2" font-weight="normal" stroke="#000" stroke-width="0.6">B</text>
<text transform="translate(189.3 1046.5) scale(0.7 1)" text-anchor="middle" font-family="Liberation Sans" font-size="28.2" font-weight="normal" stroke="#000" stroke-width="0.6">3</text>
<text transform="translate(206.4 1046.5) scale(0.7 1)" text-anchor="middle" font-family="Liberation Sans" font-size="28.2" font-weight="normal" stroke="#000" stroke-width="0.6">9</text>
<path d="M224.4,1046 L224.4,1026.9 M225.4,1027.2 L219.3,1031.2" stroke="#000" stroke-width="2.6" fill="none" stroke-linecap="butt"/>
<text transform="translate(240.7 1046.5) scale(0.7 1)" text-anchor="middle" font-family="Liberation Sans" font-size="28.2" font-weight="normal" stroke="#000" stroke-width="0.6">5</text>
<text transform="translate(257.8 1046.5) scale(0.7 1)" text-anchor="middle" font-family="Liberation Sans" font-size="28.2" font-weight="normal" stroke="#000" stroke-width="0.6">6</text>
<text transform="translate(274.9 1046.5) scale(0.6 1)" text-anchor="middle" font-family="Liberation Sans" font-size="28.2" font-weight="normal" stroke="#000" stroke-width="0.6">A</text>
<text transform="translate(530.4 1063.3) scale(0.7 1)" text-anchor="middle" font-family="Liberation Sans" font-size="28.2" font-weight="normal" stroke="#000" stroke-width="0.6">3</text>
<text transform="translate(547.5 1063.3) scale(0.7 1)" text-anchor="middle" font-family="Liberation Sans" font-size="28.2" font-weight="normal" stroke="#000" stroke-width="0.6">9</text>
<path d="M565.5,1062.8 L565.5,1043.7 M566.5,1044 L560.4,1048" stroke="#000" stroke-width="2.6" fill="none" stroke-linecap="butt"/>
<text transform="translate(581.6 1063.3) scale(0.7 1)" text-anchor="middle" font-family="Liberation Sans" font-size="28.2" font-weight="normal" stroke="#000" stroke-width="0.6">5</text>
<text transform="translate(598.8 1063.3) scale(0.7 1)" text-anchor="middle" font-family="Liberation Sans" font-size="28.2" font-weight="normal" stroke="#000" stroke-width="0.6">6</text>
<text transform="translate(1234.1 323) scale(0.7 1)" text-anchor="middle" font-family="Liberation Sans" font-size="28.2" font-weight="normal" stroke="#000" stroke-width="0.6">9</text>
<text transform="translate(1251.2 323) scale(0.7 1)" text-anchor="middle" font-family="Liberation Sans" font-size="28.2" font-weight="normal" stroke="#000" stroke-width="0.6">2</text>
<text transform="translate(1268.3 323) scale(0.7 1)" text-anchor="middle" font-family="Liberation Sans" font-size="28.2" font-weight="normal" stroke="#000" stroke-width="0.6">0</text>
<text transform="translate(1285.4 323) scale(0.7 1)" text-anchor="middle" font-family="Liberation Sans" font-size="28.2" font-weight="normal" stroke="#000" stroke-width="0.6">9</text>
<text transform="translate(1302.5 323) scale(0.7 1)" text-anchor="middle" font-family="Liberation Sans" font-size="28.2" font-weight="normal" stroke="#000" stroke-width="0.6">3</text>
<text transform="translate(1204.1 414.3) scale(0.7 1)" text-anchor="middle" font-family="Liberation Sans" font-size="22.6" font-weight="normal" stroke="#000" stroke-width="0.6">(</text>
<text transform="translate(1221.2 418) scale(0.6 1)" text-anchor="middle" font-family="Liberation Sans" font-size="28.2" font-weight="normal" stroke="#000" stroke-width="0.6">C</text>
<text transform="translate(1238.3 418) scale(0.6 1)" text-anchor="middle" font-family="Liberation Sans" font-size="28.2" font-weight="normal" stroke="#000" stroke-width="0.6">A</text>
<text transform="translate(1255.4 414.3) scale(0.7 1)" text-anchor="middle" font-family="Liberation Sans" font-size="22.6" font-weight="normal" stroke="#000" stroke-width="0.6">)</text>
<path d="M1425,433.8 L1425,414.7 M1426,415 L1419.9,419" stroke="#000" stroke-width="2.6" fill="none" stroke-linecap="butt"/>
<text transform="translate(1441.2 434.3) scale(0.7 1)" text-anchor="middle" font-family="Liberation Sans" font-size="28.2" font-weight="normal" stroke="#000" stroke-width="0.6">2</text>
<text transform="translate(1458.3 434.3) scale(0.7 1)" text-anchor="middle" font-family="Liberation Sans" font-size="28.2" font-weight="normal" stroke="#000" stroke-width="0.6">0</text>
<text transform="translate(1185.3 464.8) scale(0.7 1)" text-anchor="middle" font-family="Liberation Sans" font-size="28.2" font-weight="normal" stroke="#000" stroke-width="0.6">2</text>
<text transform="translate(1202.4 464.8) scale(0.7 1)" text-anchor="middle" font-family="Liberation Sans" font-size="28.2" font-weight="normal" stroke="#000" stroke-width="0.6">2</text>
<text transform="translate(1219.5 464.8) scale(0.7 1)" text-anchor="middle" font-family="Liberation Sans" font-size="28.2" font-weight="normal" stroke="#000" stroke-width="0.6">0</text>
<text transform="translate(1236.6 464.8) scale(0.6 1)" text-anchor="middle" font-family="Liberation Sans" font-size="28.2" font-weight="normal" stroke="#000" stroke-width="0.6">A</text>
<text transform="translate(1437.3 547.7) scale(0.7 1)" text-anchor="middle" font-family="Liberation Sans" font-size="28.2" font-weight="normal" stroke="#000" stroke-width="0.6">5</text>
<path d="M1455.3,547.2 L1455.3,528.1 M1456.3,528.4 L1450.2,532.4" stroke="#000" stroke-width="2.6" fill="none" stroke-linecap="butt"/>
<text transform="translate(1471.5 547.7) scale(0.7 1)" text-anchor="middle" font-family="Liberation Sans" font-size="28.2" font-weight="normal" stroke="#000" stroke-width="0.6">0</text>
<text transform="translate(1488.6 547.7) scale(0.7 1)" text-anchor="middle" font-family="Liberation Sans" font-size="28.2" font-weight="normal" stroke="#000" stroke-width="0.6">4</text>
<text transform="translate(1505.8 547.7) scale(0.7 1)" text-anchor="middle" font-family="Liberation Sans" font-size="28.2" font-weight="normal" stroke="#000" stroke-width="0.6">9</text>
<path d="M1436,656.2 L1436,637.1 M1437,637.4 L1430.8,641.4" stroke="#000" stroke-width="2.6" fill="none" stroke-linecap="butt"/>
<text transform="translate(1452.1 656.7) scale(0.7 1)" text-anchor="middle" font-family="Liberation Sans" font-size="28.2" font-weight="normal" stroke="#000" stroke-width="0.6">4</text>
<text transform="translate(1469.2 656.7) scale(0.7 1)" text-anchor="middle" font-family="Liberation Sans" font-size="28.2" font-weight="normal" stroke="#000" stroke-width="0.6">0</text>
<text transform="translate(1486.3 656.7) scale(0.7 1)" text-anchor="middle" font-family="Liberation Sans" font-size="28.2" font-weight="normal" stroke="#000" stroke-width="0.6">2</text>
<text transform="translate(1503.5 656.7) scale(0.7 1)" text-anchor="middle" font-family="Liberation Sans" font-size="28.2" font-weight="normal" stroke="#000" stroke-width="0.6">5</text>
<text transform="translate(1296.3 738.9) scale(0.7 1)" text-anchor="middle" font-family="Liberation Sans" font-size="22.6" font-weight="normal" stroke="#000" stroke-width="0.6">(</text>
<text transform="translate(1313.4 742.6) scale(0.7 1)" text-anchor="middle" font-family="Liberation Sans" font-size="28.2" font-weight="normal" stroke="#000" stroke-width="0.6">5</text>
<path d="M1331.5,742.1 L1331.5,723 M1332.5,723.3 L1326.3,727.3" stroke="#000" stroke-width="2.6" fill="none" stroke-linecap="butt"/>
<text transform="translate(1347.6 742.6) scale(0.7 1)" text-anchor="middle" font-family="Liberation Sans" font-size="28.2" font-weight="normal" stroke="#000" stroke-width="0.6">0</text>
<text transform="translate(1364.8 742.6) scale(0.7 1)" text-anchor="middle" font-family="Liberation Sans" font-size="28.2" font-weight="normal" stroke="#000" stroke-width="0.6">8</text>
<text transform="translate(1381.8 742.6) scale(0.7 1)" text-anchor="middle" font-family="Liberation Sans" font-size="28.2" font-weight="normal" stroke="#000" stroke-width="0.6">0</text>
<text transform="translate(1398.9 742.6) scale(0.7 1)" text-anchor="middle" font-family="Liberation Sans" font-size="28.2" font-weight="normal" stroke="#000" stroke-width="0.6">/</text>
<text transform="translate(1416 742.6) scale(0.6 1)" text-anchor="middle" font-family="Liberation Sans" font-size="28.2" font-weight="normal" stroke="#000" stroke-width="0.6">D</text>
<text transform="translate(1433.1 742.6) scale(0.7 1)" text-anchor="middle" font-family="Liberation Sans" font-size="28.2" font-weight="normal" stroke="#000" stroke-width="0.6">/</text>
<text transform="translate(1450.2 742.6) scale(0.6 1)" text-anchor="middle" font-family="Liberation Sans" font-size="28.2" font-weight="normal" stroke="#000" stroke-width="0.6">E</text>
<text transform="translate(1467.3 742.6) scale(0.7 1)" text-anchor="middle" font-family="Liberation Sans" font-size="28.2" font-weight="normal" stroke="#000" stroke-width="0.6">/</text>
<text transform="translate(1484.4 742.6) scale(0.6 1)" text-anchor="middle" font-family="Liberation Sans" font-size="28.2" font-weight="normal" stroke="#000" stroke-width="0.6">F</text>
<text transform="translate(1501.5 738.9) scale(0.7 1)" text-anchor="middle" font-family="Liberation Sans" font-size="22.6" font-weight="normal" stroke="#000" stroke-width="0.6">)</text>
<path d="M1001.2,941.1 L1001.2,922 M1002.2,922.3 L996.1,926.3" stroke="#000" stroke-width="2.6" fill="none" stroke-linecap="butt"/>
<text transform="translate(1017.5 941.6) scale(0.7 1)" text-anchor="middle" font-family="Liberation Sans" font-size="28.2" font-weight="normal" stroke="#000" stroke-width="0.6">3</text>
<text transform="translate(1034.5 941.6) scale(0.7 1)" text-anchor="middle" font-family="Liberation Sans" font-size="28.2" font-weight="normal" stroke="#000" stroke-width="0.6">0</text>
<text transform="translate(1264.9 955.7) scale(0.7 1)" text-anchor="middle" font-family="Liberation Sans" font-size="28.2" font-weight="normal" stroke="#000" stroke-width="0.6">9</text>
<text transform="translate(1282 955.7) scale(0.7 1)" text-anchor="middle" font-family="Liberation Sans" font-size="28.2" font-weight="normal" stroke="#000" stroke-width="0.6">2</text>
<text transform="translate(1299.1 955.7) scale(0.7 1)" text-anchor="middle" font-family="Liberation Sans" font-size="28.2" font-weight="normal" stroke="#000" stroke-width="0.6">0</text>
<text transform="translate(1316.2 955.7) scale(0.7 1)" text-anchor="middle" font-family="Liberation Sans" font-size="28.2" font-weight="normal" stroke="#000" stroke-width="0.6">3</text>
<text transform="translate(1333.3 955.7) scale(0.7 1)" text-anchor="middle" font-family="Liberation Sans" font-size="28.2" font-weight="normal" stroke="#000" stroke-width="0.6">7</text>
<text transform="translate(1263.4 1034.6) scale(0.7 1)" text-anchor="middle" font-family="Liberation Sans" font-size="28.2" font-weight="normal" stroke="#000" stroke-width="0.6">9</text>
<text transform="translate(1280.5 1034.6) scale(0.7 1)" text-anchor="middle" font-family="Liberation Sans" font-size="28.2" font-weight="normal" stroke="#000" stroke-width="0.6">2</text>
<path d="M1298.5,1034.1 L1298.5,1015 M1299.5,1015.3 L1293.4,1019.3" stroke="#000" stroke-width="2.6" fill="none" stroke-linecap="butt"/>
<text transform="translate(1314.7 1034.6) scale(0.7 1)" text-anchor="middle" font-family="Liberation Sans" font-size="28.2" font-weight="normal" stroke="#000" stroke-width="0.6">9</text>
<text transform="translate(1331.8 1034.6) scale(0.7 1)" text-anchor="middle" font-family="Liberation Sans" font-size="28.2" font-weight="normal" stroke="#000" stroke-width="0.6">0</text>
<text transform="translate(983.2 1079.8) scale(0.7 1)" text-anchor="middle" font-family="Liberation Sans" font-size="28.2" font-weight="normal" stroke="#000" stroke-width="0.6">3</text>
<text transform="translate(1000.4 1079.8) scale(0.7 1)" text-anchor="middle" font-family="Liberation Sans" font-size="28.2" font-weight="normal" stroke="#000" stroke-width="0.6">2</text>
<text transform="translate(1017.5 1079.8) scale(0.7 1)" text-anchor="middle" font-family="Liberation Sans" font-size="28.2" font-weight="normal" stroke="#000" stroke-width="0.6">0</text>
<text transform="translate(1034.5 1079.8) scale(0.7 1)" text-anchor="middle" font-family="Liberation Sans" font-size="28.2" font-weight="normal" stroke="#000" stroke-width="0.6">5</text>
<text transform="translate(1051.6 1079.8) scale(0.7 1)" text-anchor="middle" font-family="Liberation Sans" font-size="28.2" font-weight="normal" stroke="#000" stroke-width="0.6">2</text>
<text transform="translate(1068.8 1079.8) scale(0.6 1)" text-anchor="middle" font-family="Liberation Sans" font-size="28.2" font-weight="normal" stroke="#000" stroke-width="0.6">A</text>
<text transform="translate(896.5 1197.6) scale(0.7 1)" text-anchor="middle" font-family="Liberation Sans" font-size="28.2" font-weight="normal" stroke="#000" stroke-width="0.6">9</text>
<text transform="translate(913.6 1197.6) scale(0.7 1)" text-anchor="middle" font-family="Liberation Sans" font-size="28.2" font-weight="normal" stroke="#000" stroke-width="0.6">2</text>
<path d="M931.6,1197.1 L931.6,1178 M932.6,1178.3 L926.5,1182.3" stroke="#000" stroke-width="2.6" fill="none" stroke-linecap="butt"/>
<text transform="translate(947.8 1197.6) scale(0.7 1)" text-anchor="middle" font-family="Liberation Sans" font-size="28.2" font-weight="normal" stroke="#000" stroke-width="0.6">6</text>
<text transform="translate(964.9 1197.6) scale(0.7 1)" text-anchor="middle" font-family="Liberation Sans" font-size="28.2" font-weight="normal" stroke="#000" stroke-width="0.6">0</text>
<text transform="translate(911.4 1240.5) scale(0.7 1)" text-anchor="middle" font-family="Liberation Sans" font-size="28.2" font-weight="normal" stroke="#000" stroke-width="0.6">9</text>
<text transform="translate(928.5 1240.5) scale(0.7 1)" text-anchor="middle" font-family="Liberation Sans" font-size="28.2" font-weight="normal" stroke="#000" stroke-width="0.6">2</text>
<text transform="translate(945.6 1240.5) scale(0.7 1)" text-anchor="middle" font-family="Liberation Sans" font-size="28.2" font-weight="normal" stroke="#000" stroke-width="0.6">0</text>
<text transform="translate(962.6 1240.5) scale(0.7 1)" text-anchor="middle" font-family="Liberation Sans" font-size="28.2" font-weight="normal" stroke="#000" stroke-width="0.6">2</text>
<text transform="translate(979.8 1240.5) scale(0.7 1)" text-anchor="middle" font-family="Liberation Sans" font-size="28.2" font-weight="normal" stroke="#000" stroke-width="0.6">7</text>
<path d="M923,1293.6 L923,1274.5 M924,1274.8 L917.9,1278.8" stroke="#000" stroke-width="2.6" fill="none" stroke-linecap="butt"/>
<text transform="translate(939.2 1294.1) scale(0.7 1)" text-anchor="middle" font-family="Liberation Sans" font-size="28.2" font-weight="normal" stroke="#000" stroke-width="0.6">3</text>
<text transform="translate(956.4 1294.1) scale(0.7 1)" text-anchor="middle" font-family="Liberation Sans" font-size="28.2" font-weight="normal" stroke="#000" stroke-width="0.6">0</text>
<text transform="translate(1038.8 1213.2) scale(0.7 1)" text-anchor="middle" font-family="Liberation Sans" font-size="28.2" font-weight="normal" stroke="#000" stroke-width="0.6">9</text>
<text transform="translate(1055.8 1213.2) scale(0.7 1)" text-anchor="middle" font-family="Liberation Sans" font-size="28.2" font-weight="normal" stroke="#000" stroke-width="0.6">2</text>
<text transform="translate(1073 1213.2) scale(0.7 1)" text-anchor="middle" font-family="Liberation Sans" font-size="28.2" font-weight="normal" stroke="#000" stroke-width="0.6">0</text>
<text transform="translate(1090 1213.2) scale(0.7 1)" text-anchor="middle" font-family="Liberation Sans" font-size="28.2" font-weight="normal" stroke="#000" stroke-width="0.6">0</text>
<path d="M1108.1,1212.7 L1108.1,1193.6 M1109.1,1193.9 L1103,1197.9" stroke="#000" stroke-width="2.6" fill="none" stroke-linecap="butt"/>
<text transform="translate(1330.3 1260.9) scale(0.7 1)" text-anchor="middle" font-family="Liberation Sans" font-size="28.2" font-weight="normal" stroke="#000" stroke-width="0.6">5</text>
<text transform="translate(1347.4 1260.9) scale(0.7 1)" text-anchor="middle" font-family="Liberation Sans" font-size="28.2" font-weight="normal" stroke="#000" stroke-width="0.6">2</text>
<text transform="translate(1364.5 1260.9) scale(0.7 1)" text-anchor="middle" font-family="Liberation Sans" font-size="28.2" font-weight="normal" stroke="#000" stroke-width="0.6">0</text>
<text transform="translate(1381.6 1260.9) scale(0.7 1)" text-anchor="middle" font-family="Liberation Sans" font-size="28.2" font-weight="normal" stroke="#000" stroke-width="0.6">0</text>
<text transform="translate(1398.8 1260.9) scale(0.7 1)" text-anchor="middle" font-family="Liberation Sans" font-size="28.2" font-weight="normal" stroke="#000" stroke-width="0.6">5</text>
<path d="M1420.5,1348.2 L1420.5,1329.1 M1421.5,1329.4 L1415.4,1333.4" stroke="#000" stroke-width="2.6" fill="none" stroke-linecap="butt"/>
<path d="M1437.6,1348.2 L1437.6,1329.1 M1438.6,1329.4 L1432.5,1333.4" stroke="#000" stroke-width="2.6" fill="none" stroke-linecap="butt"/>
<text transform="translate(1453.8 1348.7) scale(0.7 1)" text-anchor="middle" font-family="Liberation Sans" font-size="28.2" font-weight="normal" stroke="#000" stroke-width="0.6">0</text>
<text transform="translate(1470.9 1348.7) scale(0.7 1)" text-anchor="middle" font-family="Liberation Sans" font-size="28.2" font-weight="normal" stroke="#000" stroke-width="0.6">6</text>
<text transform="translate(1488 1348.7) scale(0.7 1)" text-anchor="middle" font-family="Liberation Sans" font-size="28.2" font-weight="normal" stroke="#000" stroke-width="0.6">0</text>
<text transform="translate(230.3 1243.2) scale(0.6 1)" text-anchor="middle" font-family="Liberation Sans" font-size="28.2" font-weight="normal" stroke="#000" stroke-width="0.6">G</text>
<text transform="translate(247.4 1243.2) scale(0.7 1)" text-anchor="middle" font-family="Liberation Sans" font-size="28.2" font-weight="normal" stroke="#000" stroke-width="1">r</text>
<text transform="translate(264.6 1243.2) scale(0.7 1)" text-anchor="middle" font-family="Liberation Sans" font-size="28.2" font-weight="normal" stroke="#000" stroke-width="1">e</text>
<text transform="translate(281.7 1243.2) scale(0.7 1)" text-anchor="middle" font-family="Liberation Sans" font-size="28.2" font-weight="normal" stroke="#000" stroke-width="1">e</text>
<text transform="translate(298.8 1243.2) scale(0.7 1)" text-anchor="middle" font-family="Liberation Sans" font-size="28.2" font-weight="normal" stroke="#000" stroke-width="1">n</text>
<text transform="translate(656.6 1299.6) scale(0.4 1)" text-anchor="middle" font-family="Liberation Sans" font-size="28.2" font-weight="normal" stroke="#000" stroke-width="0.6">W</text>
<text transform="translate(673.7 1299.6) scale(0.7 1)" text-anchor="middle" font-family="Liberation Sans" font-size="28.2" font-weight="normal" stroke="#000" stroke-width="1">h</text>
<text transform="translate(690.8 1299.6) scale(0.7 1)" text-anchor="middle" font-family="Liberation Sans" font-size="28.2" font-weight="normal" stroke="#000" stroke-width="1">i</text>
<text transform="translate(707.9 1299.6) scale(0.7 1)" text-anchor="middle" font-family="Liberation Sans" font-size="28.2" font-weight="normal" stroke="#000" stroke-width="1">t</text>
<text transform="translate(725 1299.6) scale(0.7 1)" text-anchor="middle" font-family="Liberation Sans" font-size="28.2" font-weight="normal" stroke="#000" stroke-width="1">e</text>
<text transform="translate(365.6 1493) scale(0.6 1)" text-anchor="middle" font-family="Liberation Sans" font-size="28.2" font-weight="normal" stroke="#000" stroke-width="0.6">V</text>
<text transform="translate(382.7 1493) scale(0.7 1)" text-anchor="middle" font-family="Liberation Sans" font-size="28.2" font-weight="normal" stroke="#000" stroke-width="1">i</text>
<text transform="translate(399.8 1493) scale(0.7 1)" text-anchor="middle" font-family="Liberation Sans" font-size="28.2" font-weight="normal" stroke="#000" stroke-width="1">o</text>
<text transform="translate(416.9 1493) scale(0.7 1)" text-anchor="middle" font-family="Liberation Sans" font-size="28.2" font-weight="normal" stroke="#000" stroke-width="1">l</text>
<text transform="translate(434 1493) scale(0.7 1)" text-anchor="middle" font-family="Liberation Sans" font-size="28.2" font-weight="normal" stroke="#000" stroke-width="1">e</text>
<text transform="translate(451.1 1493) scale(0.7 1)" text-anchor="middle" font-family="Liberation Sans" font-size="28.2" font-weight="normal" stroke="#000" stroke-width="1">t</text>
<text transform="translate(812.4 1395.8) scale(0.7 1)" text-anchor="middle" font-family="Liberation Sans" font-size="28.2" font-weight="normal" stroke="#000" stroke-width="0.6">5</text>
<path d="M830.4,1395.3 L830.4,1376.2 M831.4,1376.5 L825.2,1380.5" stroke="#000" stroke-width="2.6" fill="none" stroke-linecap="butt"/>
<text transform="translate(846.6 1395.8) scale(0.7 1)" text-anchor="middle" font-family="Liberation Sans" font-size="28.2" font-weight="normal" stroke="#000" stroke-width="0.6">0</text>
<text transform="translate(863.6 1395.8) scale(0.7 1)" text-anchor="middle" font-family="Liberation Sans" font-size="28.2" font-weight="normal" stroke="#000" stroke-width="0.6">8</text>
<text transform="translate(880.8 1395.8) scale(0.7 1)" text-anchor="middle" font-family="Liberation Sans" font-size="28.2" font-weight="normal" stroke="#000" stroke-width="0.6">0</text>
<text transform="translate(897.9 1395.8) scale(0.7 1)" text-anchor="middle" font-family="Liberation Sans" font-size="28.2" font-weight="normal" stroke="#000" stroke-width="0.6">/</text>
<text transform="translate(915 1395.8) scale(0.6 1)" text-anchor="middle" font-family="Liberation Sans" font-size="28.2" font-weight="normal" stroke="#000" stroke-width="0.6">D</text>
<text transform="translate(247.8 1640.1) scale(0.6 1)" text-anchor="middle" font-family="Liberation Sans" font-size="28.2" font-weight="normal" stroke="#000" stroke-width="0.6">R</text>
<text transform="translate(264.9 1640.1) scale(0.7 1)" text-anchor="middle" font-family="Liberation Sans" font-size="28.2" font-weight="normal" stroke="#000" stroke-width="1">e</text>
<text transform="translate(282 1640.1) scale(0.7 1)" text-anchor="middle" font-family="Liberation Sans" font-size="28.2" font-weight="normal" stroke="#000" stroke-width="1">d</text>
<text transform="translate(812.4 1792.2) scale(0.7 1)" text-anchor="middle" font-family="Liberation Sans" font-size="28.2" font-weight="normal" stroke="#000" stroke-width="0.6">5</text>
<path d="M830.4,1791.7 L830.4,1772.6 M831.4,1772.9 L825.2,1776.9" stroke="#000" stroke-width="2.6" fill="none" stroke-linecap="butt"/>
<text transform="translate(846.6 1792.2) scale(0.7 1)" text-anchor="middle" font-family="Liberation Sans" font-size="28.2" font-weight="normal" stroke="#000" stroke-width="0.6">0</text>
<text transform="translate(863.6 1792.2) scale(0.7 1)" text-anchor="middle" font-family="Liberation Sans" font-size="28.2" font-weight="normal" stroke="#000" stroke-width="0.6">8</text>
<text transform="translate(880.8 1792.2) scale(0.7 1)" text-anchor="middle" font-family="Liberation Sans" font-size="28.2" font-weight="normal" stroke="#000" stroke-width="0.6">0</text>
<text transform="translate(897.9 1792.2) scale(0.6 1)" text-anchor="middle" font-family="Liberation Sans" font-size="28.2" font-weight="normal" stroke="#000" stroke-width="0.6">E</text>
<text transform="translate(915 1792.2) scale(0.7 1)" text-anchor="middle" font-family="Liberation Sans" font-size="28.2" font-weight="normal" stroke="#000" stroke-width="0.6">/</text>
<text transform="translate(932.1 1792.2) scale(0.6 1)" text-anchor="middle" font-family="Liberation Sans" font-size="28.2" font-weight="normal" stroke="#000" stroke-width="0.6">F</text>
<text transform="translate(1126.5 1570.9) scale(0.7 1)" text-anchor="middle" font-family="Liberation Sans" font-size="28.2" font-weight="normal" stroke="#000" stroke-width="0.6">9</text>
<text transform="translate(1143.6 1570.9) scale(0.7 1)" text-anchor="middle" font-family="Liberation Sans" font-size="28.2" font-weight="normal" stroke="#000" stroke-width="0.6">2</text>
<text transform="translate(1160.8 1570.9) scale(0.7 1)" text-anchor="middle" font-family="Liberation Sans" font-size="28.2" font-weight="normal" stroke="#000" stroke-width="0.6">0</text>
<text transform="translate(1177.8 1570.9) scale(0.7 1)" text-anchor="middle" font-family="Liberation Sans" font-size="28.2" font-weight="normal" stroke="#000" stroke-width="0.6">5</text>
<text transform="translate(1195 1570.9) scale(0.7 1)" text-anchor="middle" font-family="Liberation Sans" font-size="28.2" font-weight="normal" stroke="#000" stroke-width="0.6">5</text>
<text transform="translate(1366.1 1655.7) scale(0.7 1)" text-anchor="middle" font-family="Liberation Sans" font-size="28.2" font-weight="normal" stroke="#000" stroke-width="0.6">5</text>
<path d="M1384.1,1655.2 L1384.1,1636.1 M1385.1,1636.4 L1379,1640.4" stroke="#000" stroke-width="2.6" fill="none" stroke-linecap="butt"/>
<text transform="translate(1400.3 1655.7) scale(0.7 1)" text-anchor="middle" font-family="Liberation Sans" font-size="28.2" font-weight="normal" stroke="#000" stroke-width="0.6">0</text>
<text transform="translate(1417.4 1655.7) scale(0.7 1)" text-anchor="middle" font-family="Liberation Sans" font-size="28.2" font-weight="normal" stroke="#000" stroke-width="0.6">2</text>
<text transform="translate(1434.5 1655.7) scale(0.7 1)" text-anchor="middle" font-family="Liberation Sans" font-size="28.2" font-weight="normal" stroke="#000" stroke-width="0.6">3</text>
<text transform="translate(1098.2 1721.2) scale(0.7 1)" text-anchor="middle" font-family="Liberation Sans" font-size="28.2" font-weight="normal" stroke="#000" stroke-width="0.6">9</text>
<text transform="translate(1115.3 1721.2) scale(0.7 1)" text-anchor="middle" font-family="Liberation Sans" font-size="28.2" font-weight="normal" stroke="#000" stroke-width="0.6">2</text>
<text transform="translate(1132.5 1721.2) scale(0.7 1)" text-anchor="middle" font-family="Liberation Sans" font-size="28.2" font-weight="normal" stroke="#000" stroke-width="0.6">0</text>
<text transform="translate(1149.5 1721.2) scale(0.7 1)" text-anchor="middle" font-family="Liberation Sans" font-size="28.2" font-weight="normal" stroke="#000" stroke-width="0.6">5</text>
<text transform="translate(1166.7 1721.2) scale(0.7 1)" text-anchor="middle" font-family="Liberation Sans" font-size="28.2" font-weight="normal" stroke="#000" stroke-width="0.6">5</text>
<text transform="translate(1183.8 1721.2) scale(0.6 1)" text-anchor="middle" font-family="Liberation Sans" font-size="28.2" font-weight="normal" stroke="#000" stroke-width="0.6">A</text>
<text transform="translate(1154.8 1862.5) scale(0.7 1)" text-anchor="middle" font-family="Liberation Sans" font-size="28.2" font-weight="normal" stroke="#000" stroke-width="0.6">4</text>
<text transform="translate(1171.9 1862.5) scale(0.7 1)" text-anchor="middle" font-family="Liberation Sans" font-size="28.2" font-weight="normal" stroke="#000" stroke-width="0.6">3</text>
<text transform="translate(1189 1862.5) scale(0.7 1)" text-anchor="middle" font-family="Liberation Sans" font-size="28.2" font-weight="normal" stroke="#000" stroke-width="0.6">0</text>
<text transform="translate(1206.1 1862.5) scale(0.7 1)" text-anchor="middle" font-family="Liberation Sans" font-size="28.2" font-weight="normal" stroke="#000" stroke-width="0.6">4</text>
<text transform="translate(1223.2 1862.5) scale(0.7 1)" text-anchor="middle" font-family="Liberation Sans" font-size="28.2" font-weight="normal" stroke="#000" stroke-width="0.6">9</text>
<text transform="translate(1424.1 1849.1) scale(0.7 1)" text-anchor="middle" font-family="Liberation Sans" font-size="28.2" font-weight="normal" stroke="#000" stroke-width="0.6">9</text>
<text transform="translate(1441.2 1849.1) scale(0.7 1)" text-anchor="middle" font-family="Liberation Sans" font-size="28.2" font-weight="normal" stroke="#000" stroke-width="0.6">2</text>
<text transform="translate(1458.3 1849.1) scale(0.7 1)" text-anchor="middle" font-family="Liberation Sans" font-size="28.2" font-weight="normal" stroke="#000" stroke-width="0.6">0</text>
<text transform="translate(1475.4 1849.1) scale(0.7 1)" text-anchor="middle" font-family="Liberation Sans" font-size="28.2" font-weight="normal" stroke="#000" stroke-width="0.6">2</text>
<text transform="translate(1492.5 1849.1) scale(0.7 1)" text-anchor="middle" font-family="Liberation Sans" font-size="28.2" font-weight="normal" stroke="#000" stroke-width="0.6">2</text>
<text transform="translate(1422.4 1902.6) scale(0.7 1)" text-anchor="middle" font-family="Liberation Sans" font-size="28.2" font-weight="normal" stroke="#000" stroke-width="0.6">9</text>
<text transform="translate(1439.5 1902.6) scale(0.7 1)" text-anchor="middle" font-family="Liberation Sans" font-size="28.2" font-weight="normal" stroke="#000" stroke-width="0.6">2</text>
<text transform="translate(1456.6 1902.6) scale(0.7 1)" text-anchor="middle" font-family="Liberation Sans" font-size="28.2" font-weight="normal" stroke="#000" stroke-width="0.6">0</text>
<text transform="translate(1473.7 1902.6) scale(0.7 1)" text-anchor="middle" font-family="Liberation Sans" font-size="28.2" font-weight="normal" stroke="#000" stroke-width="0.6">0</text>
<path d="M1491.8,1902.1 L1491.8,1883 M1492.8,1883.3 L1486.6,1887.3" stroke="#000" stroke-width="2.6" fill="none" stroke-linecap="butt"/>
<text transform="translate(1507.9 1902.6) scale(0.6 1)" text-anchor="middle" font-family="Liberation Sans" font-size="28.2" font-weight="normal" stroke="#000" stroke-width="0.6">A</text>
<text transform="translate(899.6 1843.9) scale(0.7 1)" text-anchor="middle" font-family="Liberation Sans" font-size="28.2" font-weight="normal" stroke="#000" stroke-width="0.6">9</text>
<text transform="translate(916.8 1843.9) scale(0.7 1)" text-anchor="middle" font-family="Liberation Sans" font-size="28.2" font-weight="normal" stroke="#000" stroke-width="0.6">2</text>
<text transform="translate(933.9 1843.9) scale(0.7 1)" text-anchor="middle" font-family="Liberation Sans" font-size="28.2" font-weight="normal" stroke="#000" stroke-width="0.6">0</text>
<text transform="translate(950.9 1843.9) scale(0.7 1)" text-anchor="middle" font-family="Liberation Sans" font-size="28.2" font-weight="normal" stroke="#000" stroke-width="0.6">7</text>
<text transform="translate(968 1843.9) scale(0.7 1)" text-anchor="middle" font-family="Liberation Sans" font-size="28.2" font-weight="normal" stroke="#000" stroke-width="0.6">7</text>
<text transform="translate(830.2 1900.5) scale(0.7 1)" text-anchor="middle" font-family="Liberation Sans" font-size="28.2" font-weight="normal" stroke="#000" stroke-width="0.6">2</text>
<text transform="translate(847.4 1900.5) scale(0.7 1)" text-anchor="middle" font-family="Liberation Sans" font-size="28.2" font-weight="normal" stroke="#000" stroke-width="0.6">2</text>
<text transform="translate(864.5 1900.5) scale(0.7 1)" text-anchor="middle" font-family="Liberation Sans" font-size="28.2" font-weight="normal" stroke="#000" stroke-width="0.6">0</text>
</svg></body></html>
